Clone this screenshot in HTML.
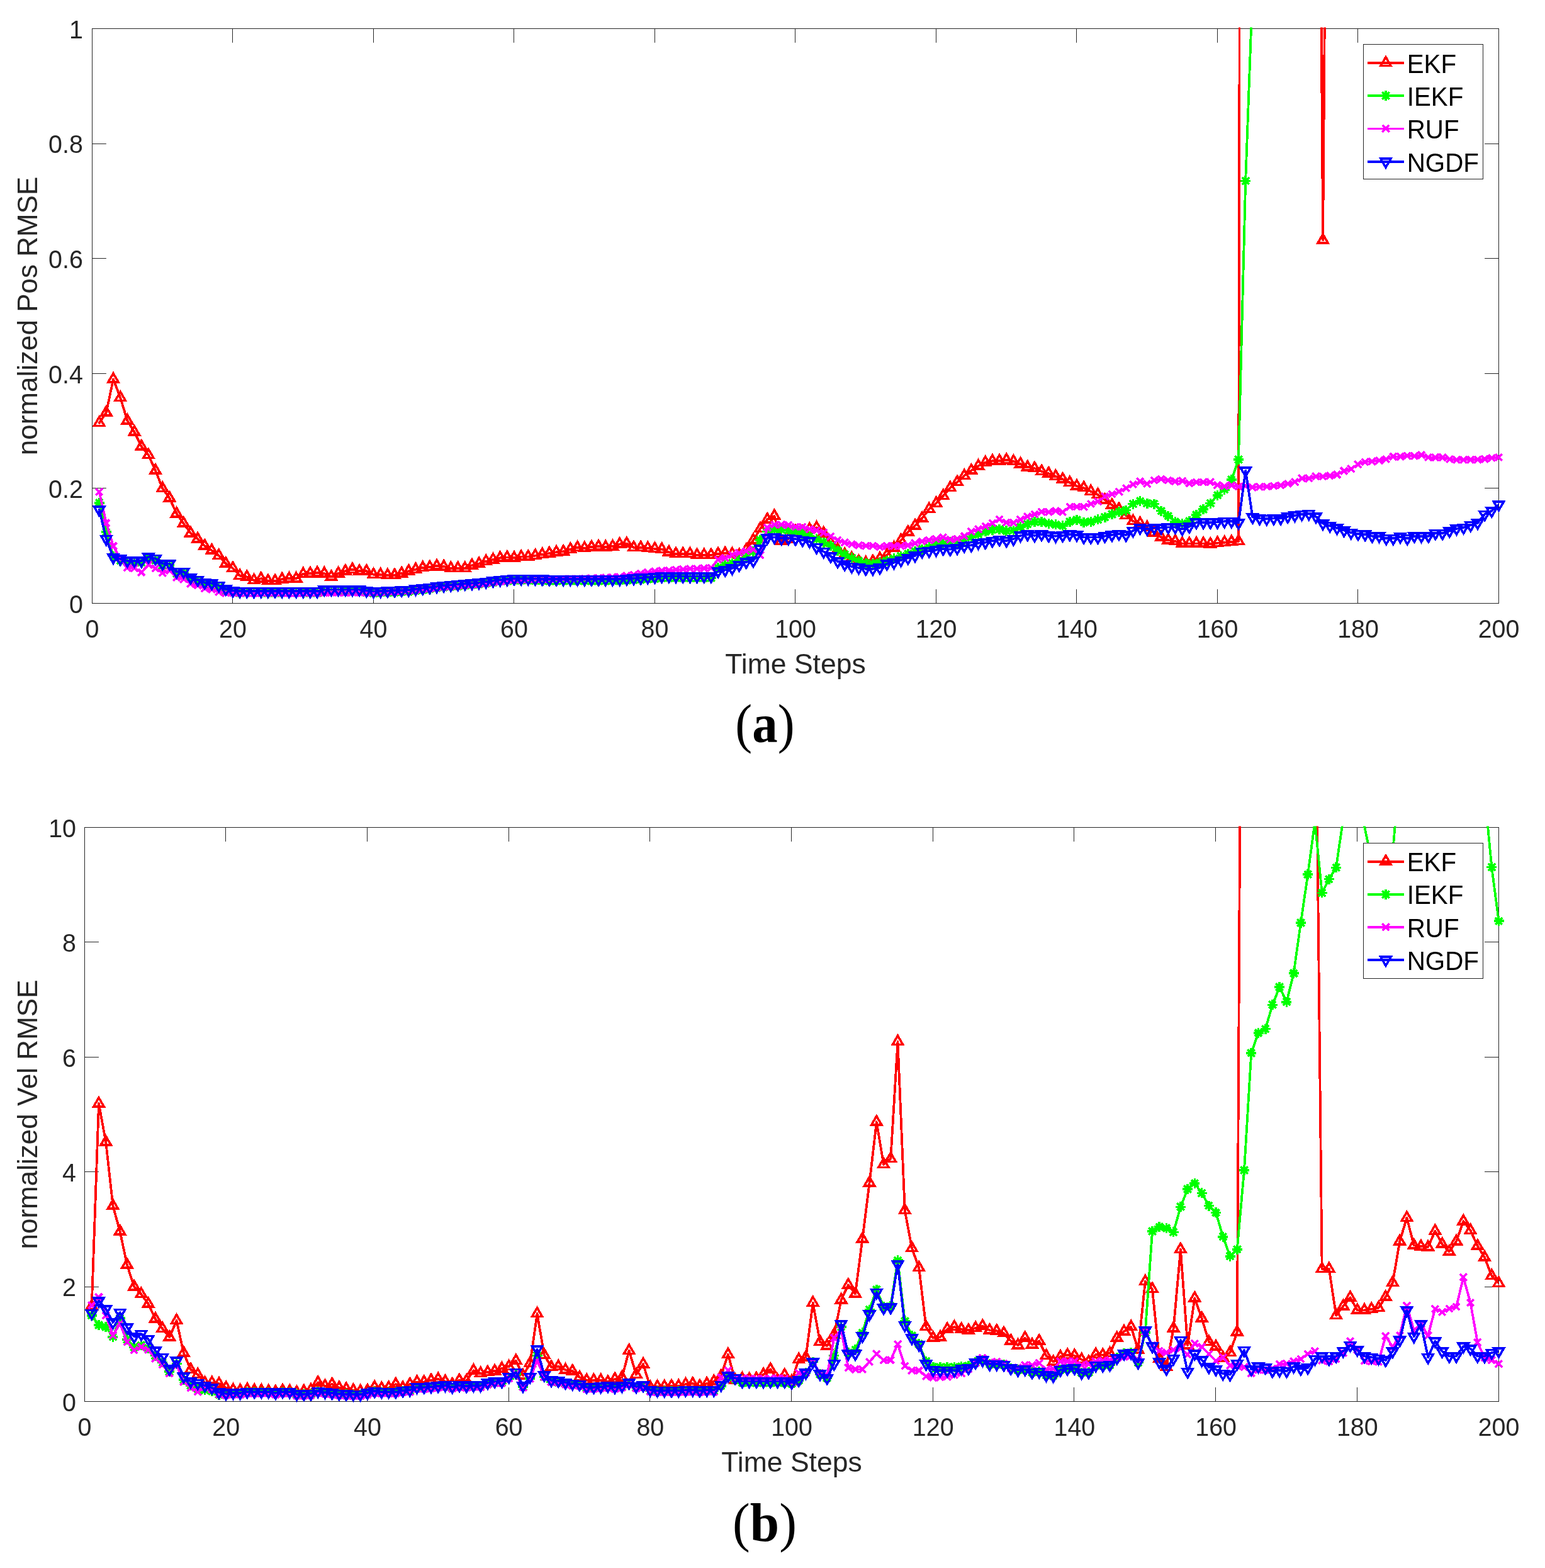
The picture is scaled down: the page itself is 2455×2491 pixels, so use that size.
<!DOCTYPE html><html><head><meta charset="utf-8"><title>RMSE</title>
<style>html,body{margin:0;padding:0;background:#fff;}svg{display:block;}</style></head><body>
<svg width="2455" height="2491" viewBox="0 0 2455 2491">
<rect width="2455" height="2491" fill="#fff"/>
<rect x="146.5" y="45.5" width="2235.0" height="913.0" fill="#fff" stroke="#262626" stroke-width="1"/>
<path d="M146.5 958.5v-22.35M146.5 45.5v22.35M369.5 958.5v-22.35M369.5 45.5v22.35M593.5 958.5v-22.35M593.5 45.5v22.35M816.5 958.5v-22.35M816.5 45.5v22.35M1040.5 958.5v-22.35M1040.5 45.5v22.35M1263.5 958.5v-22.35M1263.5 45.5v22.35M1487.5 958.5v-22.35M1487.5 45.5v22.35M1710.5 958.5v-22.35M1710.5 45.5v22.35M1934.5 958.5v-22.35M1934.5 45.5v22.35M2157.5 958.5v-22.35M2157.5 45.5v22.35M2381.5 958.5v-22.35M2381.5 45.5v22.35M146.5 958.5h22.35M2381.5 958.5h-22.35M146.5 775.5h22.35M2381.5 775.5h-22.35M146.5 593.5h22.35M2381.5 593.5h-22.35M146.5 410.5h22.35M2381.5 410.5h-22.35M146.5 228.5h22.35M2381.5 228.5h-22.35M146.5 45.5h22.35M2381.5 45.5h-22.35" stroke="#262626" stroke-width="1" fill="none"/>
<text transform="translate(146.5 1012.8) scale(0.975 1)" text-anchor="middle" font-size="40.4" fill="#262626" font-family="'Liberation Sans', Arial, Helvetica, sans-serif">0</text>
<text transform="translate(370 1012.8) scale(0.975 1)" text-anchor="middle" font-size="40.4" fill="#262626" font-family="'Liberation Sans', Arial, Helvetica, sans-serif">20</text>
<text transform="translate(593.5 1012.8) scale(0.975 1)" text-anchor="middle" font-size="40.4" fill="#262626" font-family="'Liberation Sans', Arial, Helvetica, sans-serif">40</text>
<text transform="translate(817 1012.8) scale(0.975 1)" text-anchor="middle" font-size="40.4" fill="#262626" font-family="'Liberation Sans', Arial, Helvetica, sans-serif">60</text>
<text transform="translate(1040.5 1012.8) scale(0.975 1)" text-anchor="middle" font-size="40.4" fill="#262626" font-family="'Liberation Sans', Arial, Helvetica, sans-serif">80</text>
<text transform="translate(1264 1012.8) scale(0.975 1)" text-anchor="middle" font-size="40.4" fill="#262626" font-family="'Liberation Sans', Arial, Helvetica, sans-serif">100</text>
<text transform="translate(1487.5 1012.8) scale(0.975 1)" text-anchor="middle" font-size="40.4" fill="#262626" font-family="'Liberation Sans', Arial, Helvetica, sans-serif">120</text>
<text transform="translate(1711 1012.8) scale(0.975 1)" text-anchor="middle" font-size="40.4" fill="#262626" font-family="'Liberation Sans', Arial, Helvetica, sans-serif">140</text>
<text transform="translate(1934.5 1012.8) scale(0.975 1)" text-anchor="middle" font-size="40.4" fill="#262626" font-family="'Liberation Sans', Arial, Helvetica, sans-serif">160</text>
<text transform="translate(2158 1012.8) scale(0.975 1)" text-anchor="middle" font-size="40.4" fill="#262626" font-family="'Liberation Sans', Arial, Helvetica, sans-serif">180</text>
<text transform="translate(2381.5 1012.8) scale(0.975 1)" text-anchor="middle" font-size="40.4" fill="#262626" font-family="'Liberation Sans', Arial, Helvetica, sans-serif">200</text>
<text transform="translate(131.8 973.8) scale(0.975 1)" text-anchor="end" font-size="40.4" fill="#262626" font-family="'Liberation Sans', Arial, Helvetica, sans-serif">0</text>
<text transform="translate(131.8 791.2) scale(0.975 1)" text-anchor="end" font-size="40.4" fill="#262626" font-family="'Liberation Sans', Arial, Helvetica, sans-serif">0.2</text>
<text transform="translate(131.8 608.6) scale(0.975 1)" text-anchor="end" font-size="40.4" fill="#262626" font-family="'Liberation Sans', Arial, Helvetica, sans-serif">0.4</text>
<text transform="translate(131.8 426) scale(0.975 1)" text-anchor="end" font-size="40.4" fill="#262626" font-family="'Liberation Sans', Arial, Helvetica, sans-serif">0.6</text>
<text transform="translate(131.8 243.4) scale(0.975 1)" text-anchor="end" font-size="40.4" fill="#262626" font-family="'Liberation Sans', Arial, Helvetica, sans-serif">0.8</text>
<text transform="translate(131.8 60.8) scale(0.975 1)" text-anchor="end" font-size="40.4" fill="#262626" font-family="'Liberation Sans', Arial, Helvetica, sans-serif">1</text>
<text x="1264" y="1069.5" text-anchor="middle" font-size="44.5" fill="#262626" font-family="'Liberation Sans', Arial, Helvetica, sans-serif">Time Steps</text>
<text transform="translate(59.3 502) rotate(-90)" x="0" y="0" text-anchor="middle" font-size="44.0" fill="#262626" font-family="'Liberation Sans', Arial, Helvetica, sans-serif">normalized Pos RMSE</text>
<clipPath id="ca"><rect x="146.5" y="43.5" width="2235.0" height="915.0"/></clipPath>
<g shape-rendering="crispEdges">
<polyline clip-path="url(#ca)" points="157.68,671.82 168.85,655.38 180.03,602.43 191.2,631.65 202.38,668.17 213.55,686.43 224.73,709.25 235.9,722.95 247.07,747.6 258.25,775.9 269.43,791.42 280.6,816.07 291.77,831.59 302.95,847.11 314.12,856.24 325.3,867.2 336.48,874.5 347.65,882.72 358.83,895.5 370,902.81 381.18,914.68 392.35,916.5 403.53,921.98 414.7,919.24 425.88,922.89 437.05,922.89 448.23,920.15 459.4,919.24 470.58,919.24 481.75,911.94 492.93,911.02 504.1,910.11 515.28,911.02 526.45,916.5 537.62,911.02 548.8,907.37 559.98,904.63 571.15,907.37 582.33,907.37 593.5,912.85 604.67,912.85 615.85,913.76 627.03,913.76 638.2,911.02 649.38,907.37 660.55,904.63 671.73,901.89 682.9,900.98 694.08,899.15 705.25,900.07 716.43,902.81 727.6,902.81 738.78,902.81 749.95,898.24 761.12,895.5 772.3,891.85 783.48,889.11 794.65,886.37 805.83,885.46 817,886.37 828.18,884.55 839.35,884.55 850.53,882.72 861.7,880.89 872.88,879.07 884.05,877.24 895.23,876.33 906.4,872.68 917.58,869.94 928.75,870.85 939.93,869.03 951.1,868.11 962.28,869.03 973.45,868.11 984.62,864.46 995.8,863.55 1006.98,869.94 1018.15,869.94 1029.33,870.85 1040.5,871.76 1051.68,872.68 1062.85,877.24 1074.03,879.98 1085.2,879.98 1096.38,879.98 1107.55,881.81 1118.72,881.81 1129.9,881.81 1141.08,879.98 1152.25,879.07 1163.43,879.98 1174.6,881.81 1185.78,873.59 1196.95,858.07 1208.12,839.81 1219.3,825.2 1230.48,819.72 1241.65,859.9 1252.83,856.24 1264,844.38 1275.18,845.29 1286.35,840.72 1297.53,838.35 1308.7,847.11 1319.88,861.72 1331.05,873.13 1342.23,880.89 1353.4,886.83 1364.58,891.85 1375.75,893.95 1386.93,891.85 1398.1,887.29 1409.28,882.08 1420.45,870.3 1431.62,858.53 1442.8,845.29 1453.98,835.25 1465.15,823.38 1476.33,808.77 1487.5,799.64 1498.68,787.77 1509.85,774.99 1521.03,765.86 1532.2,755.81 1543.38,747.6 1554.55,740.29 1565.73,734.82 1576.9,732.35 1588.08,732.08 1599.25,730.71 1610.43,732.99 1621.6,737.1 1632.78,742.12 1643.95,743.95 1655.12,748.88 1666.3,752.16 1677.48,756.73 1688.65,761.29 1699.83,766.77 1711,772.25 1722.18,774.99 1733.35,780.83 1744.53,785.94 1755.7,794.16 1766.88,802.38 1778.05,808.77 1789.23,818.81 1800.4,827.94 1811.58,831.59 1822.75,837.98 1833.93,846.2 1845.1,853.5 1856.28,858.07 1867.45,859.9 1878.62,863.55 1889.8,863.55 1900.98,863.55 1912.15,863.55 1923.33,864.46 1934.5,862.63 1945.68,861.72 1956.85,860.81 1968.03,859.9 1979.2,-4976 1990.38,-6345.5 2001.55,-6345.5 2012.73,-6345.5 2023.9,-6345.5 2035.08,-6345.5 2046.25,-6345.5 2057.43,-6345.5 2068.6,-6345.5 2079.78,-6345.5 2090.95,-1141.4 2102.12,381.48 2113.3,-1050.1 2124.48,-6345.5 2135.65,-6345.5 2146.82,-6345.5 2158,-6345.5 2169.18,-6345.5 2180.35,-6345.5 2191.53,-6345.5 2202.7,-6345.5 2213.88,-6345.5 2225.05,-6345.5 2236.22,-6345.5 2247.4,-6345.5 2258.58,-6345.5 2269.75,-6345.5 2280.93,-6345.5 2292.1,-6345.5 2303.28,-6345.5 2314.45,-6345.5 2325.62,-6345.5 2336.8,-6345.5 2347.98,-6345.5 2359.15,-6345.5 2370.33,-6345.5 2381.5,-6345.5" fill="none" stroke="#ff0000" stroke-width="3.8" stroke-linejoin="round" stroke-linecap="round"/>
<path d="M157.68 662.46L165.78 676.49H149.58ZM168.85 646.03L176.95 660.06H160.75ZM180.03 593.08L188.12 607.11H171.93ZM191.2 622.29L199.3 636.32H183.1ZM202.38 658.81L210.47 672.84H194.28ZM213.55 677.07L221.65 691.1H205.45ZM224.73 699.9L232.83 713.93H216.63ZM235.9 713.59L244 727.62H227.8ZM247.07 738.24L255.17 752.27H238.97ZM258.25 766.55L266.35 780.58H250.15ZM269.43 782.07L277.53 796.1H261.32ZM280.6 806.72L288.7 820.75H272.5ZM291.77 822.24L299.88 836.27H283.67ZM302.95 837.76L311.05 851.79H294.85ZM314.12 846.89L322.23 860.92H306.02ZM325.3 857.85L333.4 871.88H317.2ZM336.48 865.15L344.58 879.18H328.38ZM347.65 873.37L355.75 887.4H339.55ZM358.83 886.15L366.93 900.18H350.73ZM370 893.45L378.1 907.48H361.9ZM381.18 905.32L389.28 919.35H373.07ZM392.35 907.15L400.45 921.18H384.25ZM403.53 912.63L411.63 926.66H395.43ZM414.7 909.89L422.8 923.92H406.6ZM425.88 913.54L433.98 927.57H417.77ZM437.05 913.54L445.15 927.57H428.95ZM448.23 910.8L456.33 924.83H440.12ZM459.4 909.89L467.5 923.92H451.3ZM470.58 909.89L478.68 923.92H462.48ZM481.75 902.58L489.85 916.61H473.65ZM492.93 901.67L501.03 915.7H484.82ZM504.1 900.76L512.2 914.79H496ZM515.28 901.67L523.38 915.7H507.18ZM526.45 907.15L534.55 921.18H518.35ZM537.62 901.67L545.73 915.7H529.52ZM548.8 898.02L556.9 912.05H540.7ZM559.98 895.28L568.08 909.31H551.88ZM571.15 898.02L579.25 912.05H563.05ZM582.33 898.02L590.43 912.05H574.23ZM593.5 903.5L601.6 917.53H585.4ZM604.67 903.5L612.77 917.53H596.57ZM615.85 904.41L623.95 918.44H607.75ZM627.03 904.41L635.13 918.44H618.93ZM638.2 901.67L646.3 915.7H630.1ZM649.38 898.02L657.48 912.05H641.27ZM660.55 895.28L668.65 909.31H652.45ZM671.73 892.54L679.83 906.57H663.62ZM682.9 891.63L691 905.66H674.8ZM694.08 889.8L702.18 903.83H685.98ZM705.25 890.71L713.35 904.74H697.15ZM716.43 893.45L724.53 907.48H708.33ZM727.6 893.45L735.7 907.48H719.5ZM738.78 893.45L746.88 907.48H730.68ZM749.95 888.89L758.05 902.92H741.85ZM761.12 886.15L769.23 900.18H753.02ZM772.3 882.5L780.4 896.53H764.2ZM783.48 879.76L791.58 893.79H775.38ZM794.65 877.02L802.75 891.05H786.55ZM805.83 876.11L813.93 890.14H797.73ZM817 877.02L825.1 891.05H808.9ZM828.18 875.19L836.28 889.22H820.08ZM839.35 875.19L847.45 889.22H831.25ZM850.53 873.37L858.63 887.4H842.43ZM861.7 871.54L869.8 885.57H853.6ZM872.88 869.72L880.98 883.75H864.77ZM884.05 867.89L892.15 881.92H875.95ZM895.23 866.98L903.33 881.01H887.12ZM906.4 863.32L914.5 877.35H898.3ZM917.58 860.59L925.68 874.62H909.48ZM928.75 861.5L936.85 875.53H920.65ZM939.93 859.67L948.03 873.7H931.83ZM951.1 858.76L959.2 872.79H943ZM962.28 859.67L970.38 873.7H954.18ZM973.45 858.76L981.55 872.79H965.35ZM984.62 855.11L992.73 869.14H976.52ZM995.8 854.19L1003.9 868.22H987.7ZM1006.98 860.59L1015.08 874.62H998.88ZM1018.15 860.59L1026.25 874.62H1010.05ZM1029.33 861.5L1037.42 875.53H1021.23ZM1040.5 862.41L1048.6 876.44H1032.4ZM1051.68 863.32L1059.78 877.35H1043.58ZM1062.85 867.89L1070.95 881.92H1054.75ZM1074.03 870.63L1082.12 884.66H1065.93ZM1085.2 870.63L1093.3 884.66H1077.1ZM1096.38 870.63L1104.47 884.66H1088.28ZM1107.55 872.45L1115.65 886.48H1099.45ZM1118.72 872.45L1126.82 886.48H1110.62ZM1129.9 872.45L1138 886.48H1121.8ZM1141.08 870.63L1149.17 884.66H1132.98ZM1152.25 869.72L1160.35 883.75H1144.15ZM1163.43 870.63L1171.53 884.66H1155.33ZM1174.6 872.45L1182.7 886.48H1166.5ZM1185.78 864.24L1193.88 878.27H1177.68ZM1196.95 848.72L1205.05 862.75H1188.85ZM1208.12 830.46L1216.22 844.49H1200.03ZM1219.3 815.85L1227.4 829.88H1211.2ZM1230.48 810.37L1238.58 824.4H1222.38ZM1241.65 850.54L1249.75 864.57H1233.55ZM1252.83 846.89L1260.92 860.92H1244.73ZM1264 835.02L1272.1 849.05H1255.9ZM1275.18 835.93L1283.28 849.96H1267.08ZM1286.35 831.37L1294.45 845.4H1278.25ZM1297.53 829L1305.62 843.03H1289.43ZM1308.7 837.76L1316.8 851.79H1300.6ZM1319.88 852.37L1327.97 866.4H1311.78ZM1331.05 863.78L1339.15 877.81H1322.95ZM1342.23 871.54L1350.33 885.57H1334.13ZM1353.4 877.48L1361.5 891.51H1345.3ZM1364.58 882.5L1372.67 896.53H1356.48ZM1375.75 884.6L1383.85 898.63H1367.65ZM1386.93 882.5L1395.03 896.53H1378.83ZM1398.1 877.93L1406.2 891.96H1390ZM1409.28 872.73L1417.38 886.76H1401.18ZM1420.45 860.95L1428.55 874.98H1412.35ZM1431.62 849.17L1439.72 863.2H1423.53ZM1442.8 835.93L1450.9 849.96H1434.7ZM1453.98 825.89L1462.08 839.92H1445.88ZM1465.15 814.02L1473.25 828.05H1457.05ZM1476.33 799.41L1484.42 813.44H1468.23ZM1487.5 790.28L1495.6 804.31H1479.4ZM1498.68 778.42L1506.78 792.45H1490.58ZM1509.85 765.63L1517.95 779.66H1501.75ZM1521.03 756.5L1529.12 770.53H1512.93ZM1532.2 746.46L1540.3 760.49H1524.1ZM1543.38 738.24L1551.47 752.27H1535.28ZM1554.55 730.94L1562.65 744.97H1546.45ZM1565.73 725.46L1573.83 739.49H1557.63ZM1576.9 723L1585 737.03H1568.8ZM1588.08 722.72L1596.17 736.75H1579.98ZM1599.25 721.35L1607.35 735.38H1591.15ZM1610.43 723.64L1618.53 737.67H1602.33ZM1621.6 727.74L1629.7 741.77H1613.5ZM1632.78 732.77L1640.88 746.8H1624.68ZM1643.95 734.59L1652.05 748.62H1635.85ZM1655.12 739.52L1663.22 753.55H1647.03ZM1666.3 742.81L1674.4 756.84H1658.2ZM1677.48 747.37L1685.58 761.4H1669.38ZM1688.65 751.94L1696.75 765.97H1680.55ZM1699.83 757.42L1707.92 771.45H1691.73ZM1711 762.89L1719.1 776.92H1702.9ZM1722.18 765.63L1730.28 779.66H1714.08ZM1733.35 771.48L1741.45 785.51H1725.25ZM1744.53 776.59L1752.62 790.62H1736.43ZM1755.7 784.81L1763.8 798.84H1747.6ZM1766.88 793.02L1774.97 807.05H1758.78ZM1778.05 799.41L1786.15 813.44H1769.95ZM1789.23 809.46L1797.33 823.49H1781.13ZM1800.4 818.59L1808.5 832.62H1792.3ZM1811.58 822.24L1819.67 836.27H1803.48ZM1822.75 828.63L1830.85 842.66H1814.65ZM1833.93 836.85L1842.03 850.88H1825.83ZM1845.1 844.15L1853.2 858.18H1837ZM1856.28 848.72L1864.38 862.75H1848.18ZM1867.45 850.54L1875.55 864.57H1859.35ZM1878.62 854.19L1886.72 868.22H1870.53ZM1889.8 854.19L1897.9 868.22H1881.7ZM1900.98 854.19L1909.08 868.22H1892.88ZM1912.15 854.19L1920.25 868.22H1904.05ZM1923.33 855.11L1931.42 869.14H1915.23ZM1934.5 853.28L1942.6 867.31H1926.4ZM1945.68 852.37L1953.78 866.4H1937.58ZM1956.85 851.46L1964.95 865.49H1948.75ZM1968.03 850.54L1976.12 864.57H1959.93ZM2102.12 372.13L2110.22 386.16H2094.03Z" fill="none" stroke="#ff0000" stroke-width="3.6" stroke-linejoin="miter"/>
<polyline clip-path="url(#ca)" points="157.68,798.73 168.85,845.29 180.03,883.63 191.2,890.57 202.38,893.68 213.55,893.68 224.73,893.68 235.9,887.29 247.07,890.02 258.25,898.24 269.43,898.24 280.6,911.02 291.77,911.02 302.95,920.15 314.12,923.81 325.3,928.37 336.48,929.28 347.65,932.94 358.83,938.41 370,941.15 381.18,942.07 392.35,942.07 403.53,942.07 414.7,942.07 425.88,942.07 437.05,942.07 448.23,942.07 459.4,942.07 470.58,942.07 481.75,942.07 492.93,942.07 504.1,942.07 515.28,939.33 526.45,939.33 537.62,939.33 548.8,939.33 559.98,939.33 571.15,939.33 582.33,941.15 593.5,942.34 604.67,941.87 615.85,941.39 627.03,940.92 638.2,940.44 649.38,939.97 660.55,938.56 671.73,937.15 682.9,935.75 694.08,934.34 705.25,932.94 716.43,932.02 727.6,931.11 738.78,930.2 749.95,929.28 761.12,928.37 772.3,926.85 783.48,925.33 794.65,923.81 805.83,922.89 817,921.98 828.18,921.98 839.35,921.98 850.53,922.28 861.7,922.59 872.88,922.89 884.05,922.89 895.23,922.89 906.4,922.89 917.58,922.89 928.75,922.89 939.93,922.89 951.1,922.89 962.28,922.89 973.45,922.89 984.62,922.89 995.8,922.16 1006.98,921.43 1018.15,920.7 1029.33,919.97 1040.5,919.24 1051.68,918.33 1062.85,918.33 1074.03,918.33 1085.2,918.33 1096.38,918.33 1107.55,918.33 1118.72,918.33 1129.9,918.33 1141.08,901.89 1152.25,898.24 1163.43,894.59 1174.6,890.02 1185.78,885.46 1196.95,876.33 1208.12,858.07 1219.3,844.38 1230.48,841.64 1241.65,841.64 1252.83,842.55 1264,844.38 1275.18,848.03 1286.35,851.68 1297.53,856.24 1308.7,861.72 1319.88,867.2 1331.05,874.5 1342.23,880.89 1353.4,886.37 1364.58,890.94 1375.75,894.59 1386.93,895.5 1398.1,893.68 1409.28,890.94 1420.45,887.29 1431.62,883.63 1442.8,879.98 1453.98,876.33 1465.15,872.68 1476.33,869.03 1487.5,863.09 1498.68,863.09 1509.85,860.81 1521.03,860.81 1532.2,857.16 1543.38,853.5 1554.55,848.94 1565.73,844.38 1576.9,841.64 1588.08,840.72 1599.25,843.46 1610.43,842.55 1621.6,837.07 1632.78,832.51 1643.95,828.85 1655.12,828.85 1666.3,831.59 1677.48,833.42 1688.65,835.25 1699.83,828.85 1711,826.12 1722.18,829.77 1733.35,828.85 1744.53,825.2 1755.7,821.55 1766.88,816.99 1778.05,813.33 1789.23,810.59 1800.4,800.55 1811.58,795.99 1822.75,799.64 1833.93,800.55 1845.1,811.51 1856.28,819.72 1867.45,828.85 1878.62,831.59 1889.8,827.94 1900.98,817.9 1912.15,808.77 1923.33,799.64 1934.5,786.86 1945.68,777.73 1956.85,762.21 1968.03,730.25 1979.2,287.45 1990.38,-18.41 2001.55,-1780.5 2012.73,-1780.5 2023.9,-1780.5 2035.08,-1780.5 2046.25,-1780.5 2057.43,-1780.5 2068.6,-1780.5 2079.78,-1780.5 2090.95,-1780.5 2102.12,-1780.5 2113.3,-1780.5 2124.48,-1780.5 2135.65,-1780.5 2146.82,-1780.5 2158,-1780.5 2169.18,-1780.5 2180.35,-1780.5 2191.53,-1780.5 2202.7,-1780.5 2213.88,-1780.5 2225.05,-1780.5 2236.22,-1780.5 2247.4,-1780.5 2258.58,-1780.5 2269.75,-1780.5 2280.93,-1780.5 2292.1,-1780.5 2303.28,-1780.5 2314.45,-1780.5 2325.62,-1780.5 2336.8,-1780.5 2347.98,-1780.5 2359.15,-1780.5 2370.33,-1780.5 2381.5,-1780.5" fill="none" stroke="#00ff00" stroke-width="3.8" stroke-linejoin="round" stroke-linecap="round"/>
<path d="M149.68 798.73h16M157.68 790.73v16M152.02 793.07l11.32 11.32M152.02 804.38l11.32 -11.32M160.85 845.29h16M168.85 837.29v16M163.19 839.63l11.32 11.32M163.19 850.95l11.32 -11.32M172.03 883.63h16M180.03 875.63v16M174.37 877.97l11.32 11.32M174.37 889.29l11.32 -11.32M183.2 890.57h16M191.2 882.57v16M185.54 884.91l11.32 11.32M185.54 896.23l11.32 -11.32M194.38 893.68h16M202.38 885.68v16M196.72 888.02l11.32 11.32M196.72 899.34l11.32 -11.32M205.55 893.68h16M213.55 885.68v16M207.89 888.02l11.32 11.32M207.89 899.34l11.32 -11.32M216.73 893.68h16M224.73 885.68v16M219.07 888.02l11.32 11.32M219.07 899.34l11.32 -11.32M227.9 887.29h16M235.9 879.29v16M230.24 881.63l11.32 11.32M230.24 892.95l11.32 -11.32M239.07 890.02h16M247.07 882.02v16M241.41 884.37l11.32 11.32M241.41 895.68l11.32 -11.32M250.25 898.24h16M258.25 890.24v16M252.59 892.58l11.32 11.32M252.59 903.9l11.32 -11.32M261.43 898.24h16M269.43 890.24v16M263.76 892.58l11.32 11.32M263.76 903.9l11.32 -11.32M272.6 911.02h16M280.6 903.02v16M274.94 905.36l11.32 11.32M274.94 916.68l11.32 -11.32M283.77 911.02h16M291.77 903.02v16M286.11 905.36l11.32 11.32M286.11 916.68l11.32 -11.32M294.95 920.15h16M302.95 912.15v16M297.29 914.49l11.32 11.32M297.29 925.81l11.32 -11.32M306.12 923.81h16M314.12 915.81v16M308.46 918.15l11.32 11.32M308.46 929.47l11.32 -11.32M317.3 928.37h16M325.3 920.37v16M319.64 922.71l11.32 11.32M319.64 934.03l11.32 -11.32M328.48 929.28h16M336.48 921.28v16M330.81 923.62l11.32 11.32M330.81 934.94l11.32 -11.32M339.65 932.94h16M347.65 924.94v16M341.99 927.28l11.32 11.32M341.99 938.6l11.32 -11.32M350.83 938.41h16M358.83 930.41v16M353.17 932.75l11.32 11.32M353.17 944.07l11.32 -11.32M362 941.15h16M370 933.15v16M364.34 935.49l11.32 11.32M364.34 946.81l11.32 -11.32M373.18 942.07h16M381.18 934.07v16M375.51 936.41l11.32 11.32M375.51 947.73l11.32 -11.32M384.35 942.07h16M392.35 934.07v16M386.69 936.41l11.32 11.32M386.69 947.73l11.32 -11.32M395.53 942.07h16M403.53 934.07v16M397.87 936.41l11.32 11.32M397.87 947.73l11.32 -11.32M406.7 942.07h16M414.7 934.07v16M409.04 936.41l11.32 11.32M409.04 947.73l11.32 -11.32M417.88 942.07h16M425.88 934.07v16M420.21 936.41l11.32 11.32M420.21 947.73l11.32 -11.32M429.05 942.07h16M437.05 934.07v16M431.39 936.41l11.32 11.32M431.39 947.73l11.32 -11.32M440.23 942.07h16M448.23 934.07v16M442.56 936.41l11.32 11.32M442.56 947.73l11.32 -11.32M451.4 942.07h16M459.4 934.07v16M453.74 936.41l11.32 11.32M453.74 947.73l11.32 -11.32M462.58 942.07h16M470.58 934.07v16M464.92 936.41l11.32 11.32M464.92 947.73l11.32 -11.32M473.75 942.07h16M481.75 934.07v16M476.09 936.41l11.32 11.32M476.09 947.73l11.32 -11.32M484.93 942.07h16M492.93 934.07v16M487.26 936.41l11.32 11.32M487.26 947.73l11.32 -11.32M496.1 942.07h16M504.1 934.07v16M498.44 936.41l11.32 11.32M498.44 947.73l11.32 -11.32M507.28 939.33h16M515.28 931.33v16M509.62 933.67l11.32 11.32M509.62 944.99l11.32 -11.32M518.45 939.33h16M526.45 931.33v16M520.79 933.67l11.32 11.32M520.79 944.99l11.32 -11.32M529.62 939.33h16M537.62 931.33v16M531.97 933.67l11.32 11.32M531.97 944.99l11.32 -11.32M540.8 939.33h16M548.8 931.33v16M543.14 933.67l11.32 11.32M543.14 944.99l11.32 -11.32M551.98 939.33h16M559.98 931.33v16M554.32 933.67l11.32 11.32M554.32 944.99l11.32 -11.32M563.15 939.33h16M571.15 931.33v16M565.49 933.67l11.32 11.32M565.49 944.99l11.32 -11.32M574.33 941.15h16M582.33 933.15v16M576.67 935.49l11.32 11.32M576.67 946.81l11.32 -11.32M585.5 942.34h16M593.5 934.34v16M587.84 936.68l11.32 11.32M587.84 948l11.32 -11.32M596.67 941.87h16M604.67 933.87v16M599.01 936.21l11.32 11.32M599.01 947.53l11.32 -11.32M607.85 941.39h16M615.85 933.39v16M610.19 935.73l11.32 11.32M610.19 947.05l11.32 -11.32M619.03 940.92h16M627.03 932.92v16M621.37 935.26l11.32 11.32M621.37 946.58l11.32 -11.32M630.2 940.44h16M638.2 932.44v16M632.54 934.78l11.32 11.32M632.54 946.1l11.32 -11.32M641.38 939.97h16M649.38 931.97v16M643.72 934.31l11.32 11.32M643.72 945.63l11.32 -11.32M652.55 938.56h16M660.55 930.56v16M654.89 932.9l11.32 11.32M654.89 944.22l11.32 -11.32M663.73 937.15h16M671.73 929.15v16M666.07 931.49l11.32 11.32M666.07 942.81l11.32 -11.32M674.9 935.75h16M682.9 927.75v16M677.24 930.09l11.32 11.32M677.24 941.41l11.32 -11.32M686.08 934.34h16M694.08 926.34v16M688.42 928.68l11.32 11.32M688.42 940l11.32 -11.32M697.25 932.94h16M705.25 924.94v16M699.59 927.28l11.32 11.32M699.59 938.6l11.32 -11.32M708.43 932.02h16M716.43 924.02v16M710.77 926.36l11.32 11.32M710.77 937.68l11.32 -11.32M719.6 931.11h16M727.6 923.11v16M721.94 925.45l11.32 11.32M721.94 936.77l11.32 -11.32M730.78 930.2h16M738.78 922.2v16M733.12 924.54l11.32 11.32M733.12 935.86l11.32 -11.32M741.95 929.28h16M749.95 921.28v16M744.29 923.62l11.32 11.32M744.29 934.94l11.32 -11.32M753.12 928.37h16M761.12 920.37v16M755.47 922.71l11.32 11.32M755.47 934.03l11.32 -11.32M764.3 926.85h16M772.3 918.85v16M766.64 921.19l11.32 11.32M766.64 932.51l11.32 -11.32M775.48 925.33h16M783.48 917.33v16M777.82 919.67l11.32 11.32M777.82 930.99l11.32 -11.32M786.65 923.81h16M794.65 915.81v16M788.99 918.15l11.32 11.32M788.99 929.47l11.32 -11.32M797.83 922.89h16M805.83 914.89v16M800.17 917.23l11.32 11.32M800.17 928.55l11.32 -11.32M809 921.98h16M817 913.98v16M811.34 916.32l11.32 11.32M811.34 927.64l11.32 -11.32M820.18 921.98h16M828.18 913.98v16M822.52 916.32l11.32 11.32M822.52 927.64l11.32 -11.32M831.35 921.98h16M839.35 913.98v16M833.69 916.32l11.32 11.32M833.69 927.64l11.32 -11.32M842.53 922.28h16M850.53 914.28v16M844.87 916.62l11.32 11.32M844.87 927.94l11.32 -11.32M853.7 922.59h16M861.7 914.59v16M856.04 916.93l11.32 11.32M856.04 928.25l11.32 -11.32M864.88 922.89h16M872.88 914.89v16M867.22 917.23l11.32 11.32M867.22 928.55l11.32 -11.32M876.05 922.89h16M884.05 914.89v16M878.39 917.23l11.32 11.32M878.39 928.55l11.32 -11.32M887.23 922.89h16M895.23 914.89v16M889.57 917.23l11.32 11.32M889.57 928.55l11.32 -11.32M898.4 922.89h16M906.4 914.89v16M900.74 917.23l11.32 11.32M900.74 928.55l11.32 -11.32M909.58 922.89h16M917.58 914.89v16M911.92 917.23l11.32 11.32M911.92 928.55l11.32 -11.32M920.75 922.89h16M928.75 914.89v16M923.09 917.23l11.32 11.32M923.09 928.55l11.32 -11.32M931.93 922.89h16M939.93 914.89v16M934.27 917.23l11.32 11.32M934.27 928.55l11.32 -11.32M943.1 922.89h16M951.1 914.89v16M945.44 917.23l11.32 11.32M945.44 928.55l11.32 -11.32M954.28 922.89h16M962.28 914.89v16M956.62 917.23l11.32 11.32M956.62 928.55l11.32 -11.32M965.45 922.89h16M973.45 914.89v16M967.79 917.23l11.32 11.32M967.79 928.55l11.32 -11.32M976.62 922.89h16M984.62 914.89v16M978.97 917.23l11.32 11.32M978.97 928.55l11.32 -11.32M987.8 922.16h16M995.8 914.16v16M990.14 916.5l11.32 11.32M990.14 927.82l11.32 -11.32M998.98 921.43h16M1006.98 913.43v16M1001.32 915.77l11.32 11.32M1001.32 927.09l11.32 -11.32M1010.15 920.7h16M1018.15 912.7v16M1012.49 915.04l11.32 11.32M1012.49 926.36l11.32 -11.32M1021.33 919.97h16M1029.33 911.97v16M1023.67 914.31l11.32 11.32M1023.67 925.63l11.32 -11.32M1032.5 919.24h16M1040.5 911.24v16M1034.84 913.58l11.32 11.32M1034.84 924.9l11.32 -11.32M1043.68 918.33h16M1051.68 910.33v16M1046.02 912.67l11.32 11.32M1046.02 923.99l11.32 -11.32M1054.85 918.33h16M1062.85 910.33v16M1057.19 912.67l11.32 11.32M1057.19 923.99l11.32 -11.32M1066.03 918.33h16M1074.03 910.33v16M1068.37 912.67l11.32 11.32M1068.37 923.99l11.32 -11.32M1077.2 918.33h16M1085.2 910.33v16M1079.54 912.67l11.32 11.32M1079.54 923.99l11.32 -11.32M1088.38 918.33h16M1096.38 910.33v16M1090.71 912.67l11.32 11.32M1090.71 923.99l11.32 -11.32M1099.55 918.33h16M1107.55 910.33v16M1101.89 912.67l11.32 11.32M1101.89 923.99l11.32 -11.32M1110.72 918.33h16M1118.72 910.33v16M1113.06 912.67l11.32 11.32M1113.06 923.99l11.32 -11.32M1121.9 918.33h16M1129.9 910.33v16M1124.24 912.67l11.32 11.32M1124.24 923.99l11.32 -11.32M1133.08 901.89h16M1141.08 893.89v16M1135.41 896.23l11.32 11.32M1135.41 907.55l11.32 -11.32M1144.25 898.24h16M1152.25 890.24v16M1146.59 892.58l11.32 11.32M1146.59 903.9l11.32 -11.32M1155.43 894.59h16M1163.43 886.59v16M1157.77 888.93l11.32 11.32M1157.77 900.25l11.32 -11.32M1166.6 890.02h16M1174.6 882.02v16M1168.94 884.37l11.32 11.32M1168.94 895.68l11.32 -11.32M1177.78 885.46h16M1185.78 877.46v16M1180.12 879.8l11.32 11.32M1180.12 891.12l11.32 -11.32M1188.95 876.33h16M1196.95 868.33v16M1191.29 870.67l11.32 11.32M1191.29 881.99l11.32 -11.32M1200.12 858.07h16M1208.12 850.07v16M1202.46 852.41l11.32 11.32M1202.46 863.73l11.32 -11.32M1211.3 844.38h16M1219.3 836.38v16M1213.64 838.72l11.32 11.32M1213.64 850.03l11.32 -11.32M1222.48 841.64h16M1230.48 833.64v16M1224.82 835.98l11.32 11.32M1224.82 847.3l11.32 -11.32M1233.65 841.64h16M1241.65 833.64v16M1235.99 835.98l11.32 11.32M1235.99 847.3l11.32 -11.32M1244.83 842.55h16M1252.83 834.55v16M1247.16 836.89l11.32 11.32M1247.16 848.21l11.32 -11.32M1256 844.38h16M1264 836.38v16M1258.34 838.72l11.32 11.32M1258.34 850.03l11.32 -11.32M1267.18 848.03h16M1275.18 840.03v16M1269.52 842.37l11.32 11.32M1269.52 853.69l11.32 -11.32M1278.35 851.68h16M1286.35 843.68v16M1280.69 846.02l11.32 11.32M1280.69 857.34l11.32 -11.32M1289.53 856.24h16M1297.53 848.24v16M1291.87 850.58l11.32 11.32M1291.87 861.9l11.32 -11.32M1300.7 861.72h16M1308.7 853.72v16M1303.04 856.06l11.32 11.32M1303.04 867.38l11.32 -11.32M1311.88 867.2h16M1319.88 859.2v16M1314.21 861.54l11.32 11.32M1314.21 872.86l11.32 -11.32M1323.05 874.5h16M1331.05 866.5v16M1325.39 868.84l11.32 11.32M1325.39 880.16l11.32 -11.32M1334.23 880.89h16M1342.23 872.89v16M1336.57 875.24l11.32 11.32M1336.57 886.55l11.32 -11.32M1345.4 886.37h16M1353.4 878.37v16M1347.74 880.71l11.32 11.32M1347.74 892.03l11.32 -11.32M1356.58 890.94h16M1364.58 882.94v16M1358.91 885.28l11.32 11.32M1358.91 896.6l11.32 -11.32M1367.75 894.59h16M1375.75 886.59v16M1370.09 888.93l11.32 11.32M1370.09 900.25l11.32 -11.32M1378.93 895.5h16M1386.93 887.5v16M1381.27 889.84l11.32 11.32M1381.27 901.16l11.32 -11.32M1390.1 893.68h16M1398.1 885.68v16M1392.44 888.02l11.32 11.32M1392.44 899.34l11.32 -11.32M1401.28 890.94h16M1409.28 882.94v16M1403.62 885.28l11.32 11.32M1403.62 896.6l11.32 -11.32M1412.45 887.29h16M1420.45 879.29v16M1414.79 881.63l11.32 11.32M1414.79 892.95l11.32 -11.32M1423.62 883.63h16M1431.62 875.63v16M1425.96 877.97l11.32 11.32M1425.96 889.29l11.32 -11.32M1434.8 879.98h16M1442.8 871.98v16M1437.14 874.32l11.32 11.32M1437.14 885.64l11.32 -11.32M1445.98 876.33h16M1453.98 868.33v16M1448.32 870.67l11.32 11.32M1448.32 881.99l11.32 -11.32M1457.15 872.68h16M1465.15 864.68v16M1459.49 867.02l11.32 11.32M1459.49 878.34l11.32 -11.32M1468.33 869.03h16M1476.33 861.03v16M1470.66 863.37l11.32 11.32M1470.66 874.69l11.32 -11.32M1479.5 863.09h16M1487.5 855.09v16M1481.84 857.43l11.32 11.32M1481.84 868.75l11.32 -11.32M1490.68 863.09h16M1498.68 855.09v16M1493.02 857.43l11.32 11.32M1493.02 868.75l11.32 -11.32M1501.85 860.81h16M1509.85 852.81v16M1504.19 855.15l11.32 11.32M1504.19 866.47l11.32 -11.32M1513.03 860.81h16M1521.03 852.81v16M1515.37 855.15l11.32 11.32M1515.37 866.47l11.32 -11.32M1524.2 857.16h16M1532.2 849.16v16M1526.54 851.5l11.32 11.32M1526.54 862.82l11.32 -11.32M1535.38 853.5h16M1543.38 845.5v16M1537.71 847.85l11.32 11.32M1537.71 859.16l11.32 -11.32M1546.55 848.94h16M1554.55 840.94v16M1548.89 843.28l11.32 11.32M1548.89 854.6l11.32 -11.32M1557.73 844.38h16M1565.73 836.38v16M1560.07 838.72l11.32 11.32M1560.07 850.03l11.32 -11.32M1568.9 841.64h16M1576.9 833.64v16M1571.24 835.98l11.32 11.32M1571.24 847.3l11.32 -11.32M1580.08 840.72h16M1588.08 832.72v16M1582.41 835.06l11.32 11.32M1582.41 846.38l11.32 -11.32M1591.25 843.46h16M1599.25 835.46v16M1593.59 837.8l11.32 11.32M1593.59 849.12l11.32 -11.32M1602.43 842.55h16M1610.43 834.55v16M1604.77 836.89l11.32 11.32M1604.77 848.21l11.32 -11.32M1613.6 837.07h16M1621.6 829.07v16M1615.94 831.41l11.32 11.32M1615.94 842.73l11.32 -11.32M1624.78 832.51h16M1632.78 824.51v16M1627.12 826.85l11.32 11.32M1627.12 838.17l11.32 -11.32M1635.95 828.85h16M1643.95 820.85v16M1638.29 823.19l11.32 11.32M1638.29 834.51l11.32 -11.32M1647.12 828.85h16M1655.12 820.85v16M1649.46 823.19l11.32 11.32M1649.46 834.51l11.32 -11.32M1658.3 831.59h16M1666.3 823.59v16M1660.64 825.93l11.32 11.32M1660.64 837.25l11.32 -11.32M1669.48 833.42h16M1677.48 825.42v16M1671.82 827.76l11.32 11.32M1671.82 839.08l11.32 -11.32M1680.65 835.25h16M1688.65 827.25v16M1682.99 829.59l11.32 11.32M1682.99 840.9l11.32 -11.32M1691.83 828.85h16M1699.83 820.85v16M1694.16 823.19l11.32 11.32M1694.16 834.51l11.32 -11.32M1703 826.12h16M1711 818.12v16M1705.34 820.46l11.32 11.32M1705.34 831.77l11.32 -11.32M1714.18 829.77h16M1722.18 821.77v16M1716.52 824.11l11.32 11.32M1716.52 835.43l11.32 -11.32M1725.35 828.85h16M1733.35 820.85v16M1727.69 823.19l11.32 11.32M1727.69 834.51l11.32 -11.32M1736.53 825.2h16M1744.53 817.2v16M1738.87 819.54l11.32 11.32M1738.87 830.86l11.32 -11.32M1747.7 821.55h16M1755.7 813.55v16M1750.04 815.89l11.32 11.32M1750.04 827.21l11.32 -11.32M1758.88 816.99h16M1766.88 808.99v16M1761.21 811.33l11.32 11.32M1761.21 822.64l11.32 -11.32M1770.05 813.33h16M1778.05 805.33v16M1772.39 807.67l11.32 11.32M1772.39 818.99l11.32 -11.32M1781.23 810.59h16M1789.23 802.59v16M1783.57 804.93l11.32 11.32M1783.57 816.25l11.32 -11.32M1792.4 800.55h16M1800.4 792.55v16M1794.74 794.89l11.32 11.32M1794.74 806.21l11.32 -11.32M1803.58 795.99h16M1811.58 787.99v16M1805.91 790.33l11.32 11.32M1805.91 801.65l11.32 -11.32M1814.75 799.64h16M1822.75 791.64v16M1817.09 793.98l11.32 11.32M1817.09 805.3l11.32 -11.32M1825.93 800.55h16M1833.93 792.55v16M1828.27 794.89l11.32 11.32M1828.27 806.21l11.32 -11.32M1837.1 811.51h16M1845.1 803.51v16M1839.44 805.85l11.32 11.32M1839.44 817.17l11.32 -11.32M1848.28 819.72h16M1856.28 811.72v16M1850.62 814.06l11.32 11.32M1850.62 825.38l11.32 -11.32M1859.45 828.85h16M1867.45 820.85v16M1861.79 823.19l11.32 11.32M1861.79 834.51l11.32 -11.32M1870.62 831.59h16M1878.62 823.59v16M1872.96 825.93l11.32 11.32M1872.96 837.25l11.32 -11.32M1881.8 827.94h16M1889.8 819.94v16M1884.14 822.28l11.32 11.32M1884.14 833.6l11.32 -11.32M1892.98 817.9h16M1900.98 809.9v16M1895.32 812.24l11.32 11.32M1895.32 823.56l11.32 -11.32M1904.15 808.77h16M1912.15 800.77v16M1906.49 803.11l11.32 11.32M1906.49 814.43l11.32 -11.32M1915.33 799.64h16M1923.33 791.64v16M1917.66 793.98l11.32 11.32M1917.66 805.3l11.32 -11.32M1926.5 786.86h16M1934.5 778.86v16M1928.84 781.2l11.32 11.32M1928.84 792.52l11.32 -11.32M1937.68 777.73h16M1945.68 769.73v16M1940.02 772.07l11.32 11.32M1940.02 783.39l11.32 -11.32M1948.85 762.21h16M1956.85 754.21v16M1951.19 756.55l11.32 11.32M1951.19 767.87l11.32 -11.32M1960.03 730.25h16M1968.03 722.25v16M1962.37 724.59l11.32 11.32M1962.37 735.91l11.32 -11.32M1971.2 287.45h16M1979.2 279.45v16M1973.54 281.79l11.32 11.32M1973.54 293.11l11.32 -11.32" fill="none" stroke="#00ff00" stroke-width="3.6" stroke-linecap="butt"/>
<polyline clip-path="url(#ca)" points="157.68,781.38 168.85,830.68 180.03,867.47 191.2,887.29 202.38,901.89 213.55,902.81 224.73,909.2 235.9,897.33 247.07,902.81 258.25,910.11 269.43,906.46 280.6,917.41 291.77,920.15 302.95,927.46 314.12,930.2 325.3,934.76 336.48,936.59 347.65,940.24 358.83,942.07 370,942.07 381.18,942.07 392.35,942.07 403.53,942.07 414.7,942.07 425.88,942.07 437.05,942.07 448.23,942.07 459.4,942.07 470.58,942.07 481.75,942.07 492.93,941.97 504.1,941.88 515.28,941.79 526.45,941.7 537.62,941.61 548.8,941.52 559.98,941.43 571.15,941.34 582.33,941.24 593.5,941.15 604.67,940.61 615.85,940.06 627.03,939.51 638.2,938.96 649.38,938.41 660.55,937.14 671.73,935.86 682.9,934.58 694.08,933.3 705.25,932.02 716.43,931.11 727.6,930.2 738.78,929.28 749.95,928.37 761.12,927.46 772.3,926.18 783.48,924.9 794.65,923.62 805.83,922.35 817,921.07 828.18,920.88 839.35,920.7 850.53,920.52 861.7,920.34 872.88,920.15 884.05,919.97 895.23,919.79 906.4,919.61 917.58,919.42 928.75,919.24 939.93,918.69 951.1,918.15 962.28,917.6 973.45,917.05 984.62,916.5 995.8,914.73 1006.98,912.96 1018.15,911.19 1029.33,909.42 1040.5,907.65 1051.68,906.86 1062.85,906.08 1074.03,905.29 1085.2,904.51 1096.38,903.72 1107.55,903.26 1118.72,902.81 1129.9,902.35 1141.08,888.75 1152.25,886.37 1163.43,881.81 1174.6,878.16 1185.78,875.42 1196.95,872.68 1208.12,881.81 1219.3,837.98 1230.48,833.42 1241.65,833.42 1252.83,834.33 1264,837.07 1275.18,837.07 1286.35,840.72 1297.53,842.55 1308.7,846.2 1319.88,852.14 1331.05,858.07 1342.23,861.72 1353.4,864.46 1364.58,866.29 1375.75,867.2 1386.93,867.2 1398.1,869.03 1409.28,867.2 1420.45,867.2 1431.62,867.2 1442.8,866.29 1453.98,862.63 1465.15,859.9 1476.33,858.07 1487.5,856.24 1498.68,853.5 1509.85,857.16 1521.03,856.24 1532.2,851.68 1543.38,844.38 1554.55,840.72 1565.73,836.16 1576.9,831.23 1588.08,825.2 1599.25,830.13 1610.43,830.13 1621.6,825.2 1632.78,820.64 1643.95,816.99 1655.12,813.33 1666.3,813.33 1677.48,811.51 1688.65,813.33 1699.83,805.12 1711,805.12 1722.18,805.12 1733.35,800.55 1744.53,796.9 1755.7,788.68 1766.88,785.03 1778.05,781.38 1789.23,775.63 1800.4,769.51 1811.58,764.94 1822.75,768.6 1833.93,763.12 1845.1,761.29 1856.28,763.12 1867.45,764.94 1878.62,764.03 1889.8,767.68 1900.98,765.86 1912.15,765.86 1923.33,765.86 1934.5,770.79 1945.68,772.25 1956.85,770.79 1968.03,773.16 1979.2,772.25 1990.38,774.07 2001.55,773.16 2012.73,773.16 2023.9,772.25 2035.08,770.79 2046.25,768.6 2057.43,765.86 2068.6,760.01 2079.78,760.01 2090.95,756.73 2102.12,756.73 2113.3,755.81 2124.48,753.99 2135.65,748.14 2146.82,744.86 2158,737.55 2169.18,733.9 2180.35,732.99 2191.53,731.71 2202.7,729.34 2213.88,725.41 2225.05,725.41 2236.22,724.22 2247.4,724.22 2258.58,722.95 2269.75,726.6 2280.93,726.6 2292.1,726.6 2303.28,729.34 2314.45,730.25 2325.62,730.25 2336.8,730.25 2347.98,730.25 2359.15,729.34 2370.33,727.51 2381.5,726.6" fill="none" stroke="#ff00ff" stroke-width="3.8" stroke-linejoin="round" stroke-linecap="round"/>
<path d="M152.28 775.98l10.8 10.8M152.28 786.78l10.8 -10.8M163.45 825.28l10.8 10.8M163.45 836.08l10.8 -10.8M174.62 862.07l10.8 10.8M174.62 872.87l10.8 -10.8M185.8 881.89l10.8 10.8M185.8 892.69l10.8 -10.8M196.97 896.49l10.8 10.8M196.97 907.29l10.8 -10.8M208.15 897.41l10.8 10.8M208.15 908.21l10.8 -10.8M219.33 903.8l10.8 10.8M219.33 914.6l10.8 -10.8M230.5 891.93l10.8 10.8M230.5 902.73l10.8 -10.8M241.67 897.41l10.8 10.8M241.67 908.21l10.8 -10.8M252.85 904.71l10.8 10.8M252.85 915.51l10.8 -10.8M264.03 901.06l10.8 10.8M264.03 911.86l10.8 -10.8M275.2 912.01l10.8 10.8M275.2 922.81l10.8 -10.8M286.38 914.75l10.8 10.8M286.38 925.55l10.8 -10.8M297.55 922.06l10.8 10.8M297.55 932.86l10.8 -10.8M308.73 924.8l10.8 10.8M308.73 935.6l10.8 -10.8M319.9 929.36l10.8 10.8M319.9 940.16l10.8 -10.8M331.08 931.19l10.8 10.8M331.08 941.99l10.8 -10.8M342.25 934.84l10.8 10.8M342.25 945.64l10.8 -10.8M353.43 936.67l10.8 10.8M353.43 947.47l10.8 -10.8M364.6 936.67l10.8 10.8M364.6 947.47l10.8 -10.8M375.78 936.67l10.8 10.8M375.78 947.47l10.8 -10.8M386.95 936.67l10.8 10.8M386.95 947.47l10.8 -10.8M398.13 936.67l10.8 10.8M398.13 947.47l10.8 -10.8M409.3 936.67l10.8 10.8M409.3 947.47l10.8 -10.8M420.48 936.67l10.8 10.8M420.48 947.47l10.8 -10.8M431.65 936.67l10.8 10.8M431.65 947.47l10.8 -10.8M442.83 936.67l10.8 10.8M442.83 947.47l10.8 -10.8M454 936.67l10.8 10.8M454 947.47l10.8 -10.8M465.18 936.67l10.8 10.8M465.18 947.47l10.8 -10.8M476.35 936.67l10.8 10.8M476.35 947.47l10.8 -10.8M487.53 936.57l10.8 10.8M487.53 947.37l10.8 -10.8M498.7 936.48l10.8 10.8M498.7 947.28l10.8 -10.8M509.88 936.39l10.8 10.8M509.88 947.19l10.8 -10.8M521.05 936.3l10.8 10.8M521.05 947.1l10.8 -10.8M532.23 936.21l10.8 10.8M532.23 947.01l10.8 -10.8M543.4 936.12l10.8 10.8M543.4 946.92l10.8 -10.8M554.58 936.03l10.8 10.8M554.58 946.83l10.8 -10.8M565.75 935.94l10.8 10.8M565.75 946.74l10.8 -10.8M576.93 935.84l10.8 10.8M576.93 946.64l10.8 -10.8M588.1 935.75l10.8 10.8M588.1 946.55l10.8 -10.8M599.27 935.21l10.8 10.8M599.27 946.01l10.8 -10.8M610.45 934.66l10.8 10.8M610.45 945.46l10.8 -10.8M621.63 934.11l10.8 10.8M621.63 944.91l10.8 -10.8M632.8 933.56l10.8 10.8M632.8 944.36l10.8 -10.8M643.98 933.01l10.8 10.8M643.98 943.81l10.8 -10.8M655.15 931.74l10.8 10.8M655.15 942.54l10.8 -10.8M666.33 930.46l10.8 10.8M666.33 941.26l10.8 -10.8M677.5 929.18l10.8 10.8M677.5 939.98l10.8 -10.8M688.68 927.9l10.8 10.8M688.68 938.7l10.8 -10.8M699.85 926.62l10.8 10.8M699.85 937.42l10.8 -10.8M711.03 925.71l10.8 10.8M711.03 936.51l10.8 -10.8M722.2 924.8l10.8 10.8M722.2 935.6l10.8 -10.8M733.38 923.88l10.8 10.8M733.38 934.68l10.8 -10.8M744.55 922.97l10.8 10.8M744.55 933.77l10.8 -10.8M755.73 922.06l10.8 10.8M755.73 932.86l10.8 -10.8M766.9 920.78l10.8 10.8M766.9 931.58l10.8 -10.8M778.08 919.5l10.8 10.8M778.08 930.3l10.8 -10.8M789.25 918.22l10.8 10.8M789.25 929.02l10.8 -10.8M800.43 916.95l10.8 10.8M800.43 927.75l10.8 -10.8M811.6 915.67l10.8 10.8M811.6 926.47l10.8 -10.8M822.78 915.48l10.8 10.8M822.78 926.28l10.8 -10.8M833.95 915.3l10.8 10.8M833.95 926.1l10.8 -10.8M845.13 915.12l10.8 10.8M845.13 925.92l10.8 -10.8M856.3 914.94l10.8 10.8M856.3 925.74l10.8 -10.8M867.48 914.75l10.8 10.8M867.48 925.55l10.8 -10.8M878.65 914.57l10.8 10.8M878.65 925.37l10.8 -10.8M889.83 914.39l10.8 10.8M889.83 925.19l10.8 -10.8M901 914.21l10.8 10.8M901 925.01l10.8 -10.8M912.18 914.02l10.8 10.8M912.18 924.82l10.8 -10.8M923.35 913.84l10.8 10.8M923.35 924.64l10.8 -10.8M934.53 913.29l10.8 10.8M934.53 924.09l10.8 -10.8M945.7 912.75l10.8 10.8M945.7 923.55l10.8 -10.8M956.88 912.2l10.8 10.8M956.88 923l10.8 -10.8M968.05 911.65l10.8 10.8M968.05 922.45l10.8 -10.8M979.23 911.1l10.8 10.8M979.23 921.9l10.8 -10.8M990.4 909.33l10.8 10.8M990.4 920.13l10.8 -10.8M1001.58 907.56l10.8 10.8M1001.58 918.36l10.8 -10.8M1012.75 905.79l10.8 10.8M1012.75 916.59l10.8 -10.8M1023.93 904.02l10.8 10.8M1023.93 914.82l10.8 -10.8M1035.1 902.25l10.8 10.8M1035.1 913.05l10.8 -10.8M1046.28 901.46l10.8 10.8M1046.28 912.26l10.8 -10.8M1057.45 900.68l10.8 10.8M1057.45 911.48l10.8 -10.8M1068.62 899.89l10.8 10.8M1068.62 910.69l10.8 -10.8M1079.8 899.11l10.8 10.8M1079.8 909.91l10.8 -10.8M1090.97 898.32l10.8 10.8M1090.97 909.12l10.8 -10.8M1102.15 897.86l10.8 10.8M1102.15 908.66l10.8 -10.8M1113.32 897.41l10.8 10.8M1113.32 908.21l10.8 -10.8M1124.5 896.95l10.8 10.8M1124.5 907.75l10.8 -10.8M1135.67 883.35l10.8 10.8M1135.67 894.15l10.8 -10.8M1146.85 880.97l10.8 10.8M1146.85 891.77l10.8 -10.8M1158.03 876.41l10.8 10.8M1158.03 887.21l10.8 -10.8M1169.2 872.76l10.8 10.8M1169.2 883.56l10.8 -10.8M1180.38 870.02l10.8 10.8M1180.38 880.82l10.8 -10.8M1191.55 867.28l10.8 10.8M1191.55 878.08l10.8 -10.8M1202.72 876.41l10.8 10.8M1202.72 887.21l10.8 -10.8M1213.9 832.58l10.8 10.8M1213.9 843.38l10.8 -10.8M1225.08 828.02l10.8 10.8M1225.08 838.82l10.8 -10.8M1236.25 828.02l10.8 10.8M1236.25 838.82l10.8 -10.8M1247.42 828.93l10.8 10.8M1247.42 839.73l10.8 -10.8M1258.6 831.67l10.8 10.8M1258.6 842.47l10.8 -10.8M1269.78 831.67l10.8 10.8M1269.78 842.47l10.8 -10.8M1280.95 835.32l10.8 10.8M1280.95 846.12l10.8 -10.8M1292.12 837.15l10.8 10.8M1292.12 847.95l10.8 -10.8M1303.3 840.8l10.8 10.8M1303.3 851.6l10.8 -10.8M1314.47 846.74l10.8 10.8M1314.47 857.54l10.8 -10.8M1325.65 852.67l10.8 10.8M1325.65 863.47l10.8 -10.8M1336.83 856.32l10.8 10.8M1336.83 867.12l10.8 -10.8M1348 859.06l10.8 10.8M1348 869.86l10.8 -10.8M1359.17 860.89l10.8 10.8M1359.17 871.69l10.8 -10.8M1370.35 861.8l10.8 10.8M1370.35 872.6l10.8 -10.8M1381.53 861.8l10.8 10.8M1381.53 872.6l10.8 -10.8M1392.7 863.63l10.8 10.8M1392.7 874.43l10.8 -10.8M1403.88 861.8l10.8 10.8M1403.88 872.6l10.8 -10.8M1415.05 861.8l10.8 10.8M1415.05 872.6l10.8 -10.8M1426.22 861.8l10.8 10.8M1426.22 872.6l10.8 -10.8M1437.4 860.89l10.8 10.8M1437.4 871.69l10.8 -10.8M1448.58 857.24l10.8 10.8M1448.58 868.03l10.8 -10.8M1459.75 854.5l10.8 10.8M1459.75 865.3l10.8 -10.8M1470.92 852.67l10.8 10.8M1470.92 863.47l10.8 -10.8M1482.1 850.84l10.8 10.8M1482.1 861.64l10.8 -10.8M1493.28 848.11l10.8 10.8M1493.28 858.9l10.8 -10.8M1504.45 851.76l10.8 10.8M1504.45 862.56l10.8 -10.8M1515.62 850.84l10.8 10.8M1515.62 861.64l10.8 -10.8M1526.8 846.28l10.8 10.8M1526.8 857.08l10.8 -10.8M1537.97 838.98l10.8 10.8M1537.97 849.77l10.8 -10.8M1549.15 835.32l10.8 10.8M1549.15 846.12l10.8 -10.8M1560.33 830.76l10.8 10.8M1560.33 841.56l10.8 -10.8M1571.5 825.83l10.8 10.8M1571.5 836.63l10.8 -10.8M1582.67 819.8l10.8 10.8M1582.67 830.6l10.8 -10.8M1593.85 824.73l10.8 10.8M1593.85 835.53l10.8 -10.8M1605.03 824.73l10.8 10.8M1605.03 835.53l10.8 -10.8M1616.2 819.8l10.8 10.8M1616.2 830.6l10.8 -10.8M1627.38 815.24l10.8 10.8M1627.38 826.04l10.8 -10.8M1638.55 811.59l10.8 10.8M1638.55 822.38l10.8 -10.8M1649.72 807.93l10.8 10.8M1649.72 818.73l10.8 -10.8M1660.9 807.93l10.8 10.8M1660.9 818.73l10.8 -10.8M1672.08 806.11l10.8 10.8M1672.08 816.91l10.8 -10.8M1683.25 807.93l10.8 10.8M1683.25 818.73l10.8 -10.8M1694.42 799.72l10.8 10.8M1694.42 810.52l10.8 -10.8M1705.6 799.72l10.8 10.8M1705.6 810.52l10.8 -10.8M1716.78 799.72l10.8 10.8M1716.78 810.52l10.8 -10.8M1727.95 795.15l10.8 10.8M1727.95 805.95l10.8 -10.8M1739.12 791.5l10.8 10.8M1739.12 802.3l10.8 -10.8M1750.3 783.28l10.8 10.8M1750.3 794.08l10.8 -10.8M1761.47 779.63l10.8 10.8M1761.47 790.43l10.8 -10.8M1772.65 775.98l10.8 10.8M1772.65 786.78l10.8 -10.8M1783.83 770.23l10.8 10.8M1783.83 781.03l10.8 -10.8M1795 764.11l10.8 10.8M1795 774.91l10.8 -10.8M1806.17 759.54l10.8 10.8M1806.17 770.34l10.8 -10.8M1817.35 763.2l10.8 10.8M1817.35 774l10.8 -10.8M1828.53 757.72l10.8 10.8M1828.53 768.52l10.8 -10.8M1839.7 755.89l10.8 10.8M1839.7 766.69l10.8 -10.8M1850.88 757.72l10.8 10.8M1850.88 768.52l10.8 -10.8M1862.05 759.54l10.8 10.8M1862.05 770.34l10.8 -10.8M1873.22 758.63l10.8 10.8M1873.22 769.43l10.8 -10.8M1884.4 762.28l10.8 10.8M1884.4 773.08l10.8 -10.8M1895.58 760.46l10.8 10.8M1895.58 771.26l10.8 -10.8M1906.75 760.46l10.8 10.8M1906.75 771.26l10.8 -10.8M1917.92 760.46l10.8 10.8M1917.92 771.26l10.8 -10.8M1929.1 765.39l10.8 10.8M1929.1 776.19l10.8 -10.8M1940.28 766.85l10.8 10.8M1940.28 777.65l10.8 -10.8M1951.45 765.39l10.8 10.8M1951.45 776.19l10.8 -10.8M1962.62 767.76l10.8 10.8M1962.62 778.56l10.8 -10.8M1973.8 766.85l10.8 10.8M1973.8 777.65l10.8 -10.8M1984.98 768.67l10.8 10.8M1984.98 779.47l10.8 -10.8M1996.15 767.76l10.8 10.8M1996.15 778.56l10.8 -10.8M2007.33 767.76l10.8 10.8M2007.33 778.56l10.8 -10.8M2018.5 766.85l10.8 10.8M2018.5 777.65l10.8 -10.8M2029.67 765.39l10.8 10.8M2029.67 776.19l10.8 -10.8M2040.85 763.2l10.8 10.8M2040.85 774l10.8 -10.8M2052.03 760.46l10.8 10.8M2052.03 771.26l10.8 -10.8M2063.2 754.61l10.8 10.8M2063.2 765.41l10.8 -10.8M2074.38 754.61l10.8 10.8M2074.38 765.41l10.8 -10.8M2085.55 751.33l10.8 10.8M2085.55 762.13l10.8 -10.8M2096.72 751.33l10.8 10.8M2096.72 762.13l10.8 -10.8M2107.9 750.41l10.8 10.8M2107.9 761.21l10.8 -10.8M2119.08 748.59l10.8 10.8M2119.08 759.39l10.8 -10.8M2130.25 742.74l10.8 10.8M2130.25 753.54l10.8 -10.8M2141.42 739.46l10.8 10.8M2141.42 750.26l10.8 -10.8M2152.6 732.15l10.8 10.8M2152.6 742.95l10.8 -10.8M2163.78 728.5l10.8 10.8M2163.78 739.3l10.8 -10.8M2174.95 727.59l10.8 10.8M2174.95 738.39l10.8 -10.8M2186.12 726.31l10.8 10.8M2186.12 737.11l10.8 -10.8M2197.3 723.94l10.8 10.8M2197.3 734.74l10.8 -10.8M2208.47 720.01l10.8 10.8M2208.47 730.81l10.8 -10.8M2219.65 720.01l10.8 10.8M2219.65 730.81l10.8 -10.8M2230.82 718.82l10.8 10.8M2230.82 729.62l10.8 -10.8M2242 718.82l10.8 10.8M2242 729.62l10.8 -10.8M2253.18 717.55l10.8 10.8M2253.18 728.35l10.8 -10.8M2264.35 721.2l10.8 10.8M2264.35 732l10.8 -10.8M2275.53 721.2l10.8 10.8M2275.53 732l10.8 -10.8M2286.7 721.2l10.8 10.8M2286.7 732l10.8 -10.8M2297.88 723.94l10.8 10.8M2297.88 734.74l10.8 -10.8M2309.05 724.85l10.8 10.8M2309.05 735.65l10.8 -10.8M2320.22 724.85l10.8 10.8M2320.22 735.65l10.8 -10.8M2331.4 724.85l10.8 10.8M2331.4 735.65l10.8 -10.8M2342.58 724.85l10.8 10.8M2342.58 735.65l10.8 -10.8M2353.75 723.94l10.8 10.8M2353.75 734.74l10.8 -10.8M2364.93 722.11l10.8 10.8M2364.93 732.91l10.8 -10.8M2376.1 721.2l10.8 10.8M2376.1 732l10.8 -10.8" fill="none" stroke="#ff00ff" stroke-width="3.6" stroke-linecap="butt"/>
<polyline clip-path="url(#ca)" points="157.68,809.68 168.85,856.24 180.03,885.46 191.2,887.83 202.38,890.94 213.55,890.94 224.73,890.94 235.9,884.55 247.07,887.29 258.25,895.5 269.43,895.5 280.6,908.28 291.77,908.28 302.95,917.41 314.12,921.07 325.3,925.63 336.48,926.54 347.65,930.2 358.83,935.67 370,938.41 381.18,939.33 392.35,939.33 403.53,939.33 414.7,939.33 425.88,939.33 437.05,939.33 448.23,939.33 459.4,939.33 470.58,939.33 481.75,939.33 492.93,939.33 504.1,939.33 515.28,936.59 526.45,936.59 537.62,936.59 548.8,936.59 559.98,936.59 571.15,936.59 582.33,938.41 593.5,939.6 604.67,939.13 615.85,938.65 627.03,938.18 638.2,937.7 649.38,937.23 660.55,935.82 671.73,934.42 682.9,933.01 694.08,931.6 705.25,930.2 716.43,929.28 727.6,928.37 738.78,927.46 749.95,926.54 761.12,925.63 772.3,924.11 783.48,922.59 794.65,921.07 805.83,920.15 817,919.24 828.18,919.24 839.35,919.24 850.53,919.55 861.7,919.85 872.88,920.15 884.05,920.15 895.23,920.15 906.4,920.15 917.58,920.15 928.75,920.15 939.93,920.15 951.1,920.15 962.28,920.15 973.45,920.15 984.62,920.15 995.8,919.42 1006.98,918.69 1018.15,917.96 1029.33,917.23 1040.5,916.5 1051.68,915.59 1062.85,915.59 1074.03,915.59 1085.2,915.59 1096.38,915.59 1107.55,915.59 1118.72,915.59 1129.9,915.59 1141.08,907.37 1152.25,905.55 1163.43,902.81 1174.6,897.69 1185.78,892.76 1196.95,890.94 1208.12,871.76 1219.3,854.42 1230.48,853.5 1241.65,855.33 1252.83,855.33 1264,856.24 1275.18,858.07 1286.35,859.9 1297.53,869.3 1308.7,876.33 1319.88,883.63 1331.05,891.85 1342.23,896.42 1353.4,900.07 1364.58,901.89 1375.75,903.72 1386.93,903.72 1398.1,901.89 1409.28,895.5 1420.45,893.68 1431.62,890.02 1442.8,886.37 1453.98,882.72 1465.15,876.33 1476.33,875.42 1487.5,873.59 1498.68,871.76 1509.85,872.68 1521.03,870.85 1532.2,867.29 1543.38,866.29 1554.55,862.63 1565.73,861.72 1576.9,858.98 1588.08,857.16 1599.25,858.98 1610.43,856.24 1621.6,850.77 1632.78,848.94 1643.95,850.77 1655.12,848.94 1666.3,850.77 1677.48,851.68 1688.65,850.77 1699.83,848.94 1711,849.85 1722.18,853.5 1733.35,853.5 1744.53,853.5 1755.7,851.68 1766.88,849.85 1778.05,848.03 1789.23,849.85 1800.4,843.01 1811.58,838.44 1822.75,840.27 1833.93,838.44 1845.1,838.44 1856.28,837.53 1867.45,837.53 1878.62,840.27 1889.8,836.61 1900.98,829.95 1912.15,829.77 1923.33,829.77 1934.5,829.4 1945.68,828.31 1956.85,828.31 1968.03,830.68 1979.2,747.6 1990.38,821.55 2001.55,823.38 2012.73,824.29 2023.9,823.38 2035.08,823.38 2046.25,820.64 2057.43,818.81 2068.6,816.99 2079.78,816.07 2090.95,820.64 2102.12,831.59 2113.3,835.25 2124.48,838.9 2135.65,842.55 2146.82,846.2 2158,848.03 2169.18,848.94 2180.35,851.68 2191.53,851.68 2202.7,855.33 2213.88,855.33 2225.05,852.59 2236.22,855.33 2247.4,851.68 2258.58,851.68 2269.75,851.68 2280.93,847.11 2292.1,847.11 2303.28,843.46 2314.45,839.81 2325.62,837.98 2336.8,834.33 2347.98,830.68 2359.15,816.99 2370.33,811.51 2381.5,801.46" fill="none" stroke="#0000ff" stroke-width="3.8" stroke-linejoin="round" stroke-linecap="round"/>
<path d="M157.68 819.03L165.78 805H149.58ZM168.85 865.6L176.95 851.57H160.75ZM180.03 894.81L188.12 880.78H171.93ZM191.2 897.19L199.3 883.16H183.1ZM202.38 900.29L210.47 886.26H194.28ZM213.55 900.29L221.65 886.26H205.45ZM224.73 900.29L232.83 886.26H216.63ZM235.9 893.9L244 879.87H227.8ZM247.07 896.64L255.17 882.61H238.97ZM258.25 904.86L266.35 890.83H250.15ZM269.43 904.86L277.53 890.83H261.32ZM280.6 917.64L288.7 903.61H272.5ZM291.77 917.64L299.88 903.61H283.67ZM302.95 926.77L311.05 912.74H294.85ZM314.12 930.42L322.23 916.39H306.02ZM325.3 934.99L333.4 920.96H317.2ZM336.48 935.9L344.58 921.87H328.38ZM347.65 939.55L355.75 925.52H339.55ZM358.83 945.03L366.93 931H350.73ZM370 947.77L378.1 933.74H361.9ZM381.18 948.68L389.28 934.65H373.07ZM392.35 948.68L400.45 934.65H384.25ZM403.53 948.68L411.63 934.65H395.43ZM414.7 948.68L422.8 934.65H406.6ZM425.88 948.68L433.98 934.65H417.77ZM437.05 948.68L445.15 934.65H428.95ZM448.23 948.68L456.33 934.65H440.12ZM459.4 948.68L467.5 934.65H451.3ZM470.58 948.68L478.68 934.65H462.48ZM481.75 948.68L489.85 934.65H473.65ZM492.93 948.68L501.03 934.65H484.82ZM504.1 948.68L512.2 934.65H496ZM515.28 945.94L523.38 931.91H507.18ZM526.45 945.94L534.55 931.91H518.35ZM537.62 945.94L545.73 931.91H529.52ZM548.8 945.94L556.9 931.91H540.7ZM559.98 945.94L568.08 931.91H551.88ZM571.15 945.94L579.25 931.91H563.05ZM582.33 947.77L590.43 933.74H574.23ZM593.5 948.95L601.6 934.92H585.4ZM604.67 948.48L612.77 934.45H596.57ZM615.85 948L623.95 933.97H607.75ZM627.03 947.53L635.13 933.5H618.93ZM638.2 947.05L646.3 933.03H630.1ZM649.38 946.58L657.48 932.55H641.27ZM660.55 945.17L668.65 931.14H652.45ZM671.73 943.77L679.83 929.74H663.62ZM682.9 942.36L691 928.33H674.8ZM694.08 940.96L702.18 926.93H685.98ZM705.25 939.55L713.35 925.52H697.15ZM716.43 938.64L724.53 924.61H708.33ZM727.6 937.72L735.7 923.69H719.5ZM738.78 936.81L746.88 922.78H730.68ZM749.95 935.9L758.05 921.87H741.85ZM761.12 934.99L769.23 920.96H753.02ZM772.3 933.46L780.4 919.43H764.2ZM783.48 931.94L791.58 917.91H775.38ZM794.65 930.42L802.75 916.39H786.55ZM805.83 929.51L813.93 915.48H797.73ZM817 928.59L825.1 914.56H808.9ZM828.18 928.59L836.28 914.56H820.08ZM839.35 928.59L847.45 914.56H831.25ZM850.53 928.9L858.63 914.87H842.43ZM861.7 929.2L869.8 915.17H853.6ZM872.88 929.51L880.98 915.48H864.77ZM884.05 929.51L892.15 915.48H875.95ZM895.23 929.51L903.33 915.48H887.12ZM906.4 929.51L914.5 915.48H898.3ZM917.58 929.51L925.68 915.48H909.48ZM928.75 929.51L936.85 915.48H920.65ZM939.93 929.51L948.03 915.48H931.83ZM951.1 929.51L959.2 915.48H943ZM962.28 929.51L970.38 915.48H954.18ZM973.45 929.51L981.55 915.48H965.35ZM984.62 929.51L992.73 915.48H976.52ZM995.8 928.78L1003.9 914.75H987.7ZM1006.98 928.05L1015.08 914.02H998.88ZM1018.15 927.32L1026.25 913.29H1010.05ZM1029.33 926.59L1037.42 912.56H1021.23ZM1040.5 925.86L1048.6 911.83H1032.4ZM1051.68 924.94L1059.78 910.91H1043.58ZM1062.85 924.94L1070.95 910.91H1054.75ZM1074.03 924.94L1082.12 910.91H1065.93ZM1085.2 924.94L1093.3 910.91H1077.1ZM1096.38 924.94L1104.47 910.91H1088.28ZM1107.55 924.94L1115.65 910.91H1099.45ZM1118.72 924.94L1126.82 910.91H1110.62ZM1129.9 924.94L1138 910.91H1121.8ZM1141.08 916.73L1149.17 902.7H1132.98ZM1152.25 914.9L1160.35 900.87H1144.15ZM1163.43 912.16L1171.53 898.13H1155.33ZM1174.6 907.05L1182.7 893.02H1166.5ZM1185.78 902.12L1193.88 888.09H1177.68ZM1196.95 900.29L1205.05 886.26H1188.85ZM1208.12 881.12L1216.22 867.09H1200.03ZM1219.3 863.77L1227.4 849.74H1211.2ZM1230.48 862.86L1238.58 848.83H1222.38ZM1241.65 864.68L1249.75 850.65H1233.55ZM1252.83 864.68L1260.92 850.65H1244.73ZM1264 865.6L1272.1 851.57H1255.9ZM1275.18 867.42L1283.28 853.39H1267.08ZM1286.35 869.25L1294.45 855.22H1278.25ZM1297.53 878.65L1305.62 864.62H1289.43ZM1308.7 885.68L1316.8 871.65H1300.6ZM1319.88 892.99L1327.97 878.96H1311.78ZM1331.05 901.2L1339.15 887.17H1322.95ZM1342.23 905.77L1350.33 891.74H1334.13ZM1353.4 909.42L1361.5 895.39H1345.3ZM1364.58 911.25L1372.67 897.22H1356.48ZM1375.75 913.07L1383.85 899.04H1367.65ZM1386.93 913.07L1395.03 899.04H1378.83ZM1398.1 911.25L1406.2 897.22H1390ZM1409.28 904.86L1417.38 890.83H1401.18ZM1420.45 903.03L1428.55 889H1412.35ZM1431.62 899.38L1439.72 885.35H1423.53ZM1442.8 895.73L1450.9 881.7H1434.7ZM1453.98 892.07L1462.08 878.04H1445.88ZM1465.15 885.68L1473.25 871.65H1457.05ZM1476.33 884.77L1484.42 870.74H1468.23ZM1487.5 882.94L1495.6 868.91H1479.4ZM1498.68 881.12L1506.78 867.09H1490.58ZM1509.85 882.03L1517.95 868H1501.75ZM1521.03 880.21L1529.12 866.18H1512.93ZM1532.2 876.64L1540.3 862.61H1524.1ZM1543.38 875.64L1551.47 861.61H1535.28ZM1554.55 871.99L1562.65 857.96H1546.45ZM1565.73 871.08L1573.83 857.05H1557.63ZM1576.9 868.34L1585 854.31H1568.8ZM1588.08 866.51L1596.17 852.48H1579.98ZM1599.25 868.34L1607.35 854.31H1591.15ZM1610.43 865.6L1618.53 851.57H1602.33ZM1621.6 860.12L1629.7 846.09H1613.5ZM1632.78 858.29L1640.88 844.26H1624.68ZM1643.95 860.12L1652.05 846.09H1635.85ZM1655.12 858.29L1663.22 844.26H1647.03ZM1666.3 860.12L1674.4 846.09H1658.2ZM1677.48 861.03L1685.58 847H1669.38ZM1688.65 860.12L1696.75 846.09H1680.55ZM1699.83 858.29L1707.92 844.26H1691.73ZM1711 859.21L1719.1 845.18H1702.9ZM1722.18 862.86L1730.28 848.83H1714.08ZM1733.35 862.86L1741.45 848.83H1725.25ZM1744.53 862.86L1752.62 848.83H1736.43ZM1755.7 861.03L1763.8 847H1747.6ZM1766.88 859.21L1774.97 845.18H1758.78ZM1778.05 857.38L1786.15 843.35H1769.95ZM1789.23 859.21L1797.33 845.18H1781.13ZM1800.4 852.36L1808.5 838.33H1792.3ZM1811.58 847.79L1819.67 833.76H1803.48ZM1822.75 849.62L1830.85 835.59H1814.65ZM1833.93 847.79L1842.03 833.76H1825.83ZM1845.1 847.79L1853.2 833.76H1837ZM1856.28 846.88L1864.38 832.85H1848.18ZM1867.45 846.88L1875.55 832.85H1859.35ZM1878.62 849.62L1886.72 835.59H1870.53ZM1889.8 845.97L1897.9 831.94H1881.7ZM1900.98 839.3L1909.08 825.27H1892.88ZM1912.15 839.12L1920.25 825.09H1904.05ZM1923.33 839.12L1931.42 825.09H1915.23ZM1934.5 838.75L1942.6 824.73H1926.4ZM1945.68 837.66L1953.78 823.63H1937.58ZM1956.85 837.66L1964.95 823.63H1948.75ZM1968.03 840.03L1976.12 826H1959.93ZM1979.2 756.95L1987.3 742.92H1971.1ZM1990.38 830.9L1998.48 816.87H1982.28ZM2001.55 832.73L2009.65 818.7H1993.45ZM2012.73 833.64L2020.83 819.61H2004.63ZM2023.9 832.73L2032 818.7H2015.8ZM2035.08 832.73L2043.17 818.7H2026.98ZM2046.25 829.99L2054.35 815.96H2038.15ZM2057.43 828.16L2065.53 814.13H2049.33ZM2068.6 826.34L2076.7 812.31H2060.5ZM2079.78 825.43L2087.88 811.4H2071.68ZM2090.95 829.99L2099.05 815.96H2082.85ZM2102.12 840.95L2110.22 826.92H2094.03ZM2113.3 844.6L2121.4 830.57H2105.2ZM2124.48 848.25L2132.58 834.22H2116.38ZM2135.65 851.9L2143.75 837.87H2127.55ZM2146.82 855.55L2154.92 841.52H2138.72ZM2158 857.38L2166.1 843.35H2149.9ZM2169.18 858.29L2177.28 844.26H2161.08ZM2180.35 861.03L2188.45 847H2172.25ZM2191.53 861.03L2199.62 847H2183.43ZM2202.7 864.68L2210.8 850.65H2194.6ZM2213.88 864.68L2221.97 850.65H2205.78ZM2225.05 861.95L2233.15 847.92H2216.95ZM2236.22 864.68L2244.32 850.65H2228.12ZM2247.4 861.03L2255.5 847H2239.3ZM2258.58 861.03L2266.68 847H2250.48ZM2269.75 861.03L2277.85 847H2261.65ZM2280.93 856.47L2289.03 842.44H2272.83ZM2292.1 856.47L2300.2 842.44H2284ZM2303.28 852.82L2311.38 838.79H2295.18ZM2314.45 849.16L2322.55 835.13H2306.35ZM2325.62 847.34L2333.72 833.31H2317.53ZM2336.8 843.69L2344.9 829.66H2328.7ZM2347.98 840.03L2356.08 826H2339.88ZM2359.15 826.34L2367.25 812.31H2351.05ZM2370.33 820.86L2378.43 806.83H2362.23ZM2381.5 810.82L2389.6 796.79H2373.4Z" fill="none" stroke="#0000ff" stroke-width="3.6" stroke-linejoin="miter"/>
</g>
<rect x="2166.5" y="70.5" width="190.0" height="214.0" fill="#fff" stroke="#262626" stroke-width="1"/>
<g shape-rendering="crispEdges"><path d="M2173 100H2231" stroke="#ff0000" stroke-width="3.8" fill="none"/>
<path d="M2202 90.65L2210.1 104.68H2193.9Z" fill="none" stroke="#ff0000" stroke-width="3.6" stroke-linejoin="miter"/></g>
<text transform="translate(2235.7 116) scale(0.965 1)" font-size="41.8" fill="#000" font-family="'Liberation Sans', Arial, Helvetica, sans-serif">EKF</text>
<g shape-rendering="crispEdges"><path d="M2173 152.2H2231" stroke="#00ff00" stroke-width="3.8" fill="none"/>
<path d="M2194 152.2h16M2202 144.2v16M2196.34 146.54l11.32 11.32M2196.34 157.86l11.32 -11.32" fill="none" stroke="#00ff00" stroke-width="3.6" stroke-linecap="butt"/></g>
<text transform="translate(2235.7 168.2) scale(0.965 1)" font-size="41.8" fill="#000" font-family="'Liberation Sans', Arial, Helvetica, sans-serif">IEKF</text>
<g shape-rendering="crispEdges"><path d="M2173 204.4H2231" stroke="#ff00ff" stroke-width="3.8" fill="none"/>
<path d="M2196.6 199l10.8 10.8M2196.6 209.8l10.8 -10.8" fill="none" stroke="#ff00ff" stroke-width="3.6" stroke-linecap="butt"/></g>
<text transform="translate(2235.7 220.4) scale(0.965 1)" font-size="41.8" fill="#000" font-family="'Liberation Sans', Arial, Helvetica, sans-serif">RUF</text>
<g shape-rendering="crispEdges"><path d="M2173 256.6H2231" stroke="#0000ff" stroke-width="3.8" fill="none"/>
<path d="M2202 265.95L2210.1 251.92H2193.9Z" fill="none" stroke="#0000ff" stroke-width="3.6" stroke-linejoin="miter"/></g>
<text transform="translate(2235.7 272.6) scale(0.965 1)" font-size="41.8" fill="#000" font-family="'Liberation Sans', Arial, Helvetica, sans-serif">NGDF</text>
<rect x="134.5" y="1314.5" width="2247.0" height="912.0" fill="#fff" stroke="#262626" stroke-width="1"/>
<path d="M134.5 2226.5v-22.47M134.5 1314.5v22.47M358.5 2226.5v-22.47M358.5 1314.5v22.47M583.5 2226.5v-22.47M583.5 1314.5v22.47M808.5 2226.5v-22.47M808.5 1314.5v22.47M1032.5 2226.5v-22.47M1032.5 1314.5v22.47M1257.5 2226.5v-22.47M1257.5 1314.5v22.47M1482.5 2226.5v-22.47M1482.5 1314.5v22.47M1706.5 2226.5v-22.47M1706.5 1314.5v22.47M1931.5 2226.5v-22.47M1931.5 1314.5v22.47M2156.5 2226.5v-22.47M2156.5 1314.5v22.47M2381.5 2226.5v-22.47M2381.5 1314.5v22.47M134.5 2226.5h22.47M2381.5 2226.5h-22.47M134.5 2044.5h22.47M2381.5 2044.5h-22.47M134.5 1861.5h22.47M2381.5 1861.5h-22.47M134.5 1679.5h22.47M2381.5 1679.5h-22.47M134.5 1496.5h22.47M2381.5 1496.5h-22.47M134.5 1314.5h22.47M2381.5 1314.5h-22.47" stroke="#262626" stroke-width="1" fill="none"/>
<text transform="translate(134.5 2280.8) scale(0.975 1)" text-anchor="middle" font-size="40.4" fill="#262626" font-family="'Liberation Sans', Arial, Helvetica, sans-serif">0</text>
<text transform="translate(359.2 2280.8) scale(0.975 1)" text-anchor="middle" font-size="40.4" fill="#262626" font-family="'Liberation Sans', Arial, Helvetica, sans-serif">20</text>
<text transform="translate(583.9 2280.8) scale(0.975 1)" text-anchor="middle" font-size="40.4" fill="#262626" font-family="'Liberation Sans', Arial, Helvetica, sans-serif">40</text>
<text transform="translate(808.6 2280.8) scale(0.975 1)" text-anchor="middle" font-size="40.4" fill="#262626" font-family="'Liberation Sans', Arial, Helvetica, sans-serif">60</text>
<text transform="translate(1033.3 2280.8) scale(0.975 1)" text-anchor="middle" font-size="40.4" fill="#262626" font-family="'Liberation Sans', Arial, Helvetica, sans-serif">80</text>
<text transform="translate(1258 2280.8) scale(0.975 1)" text-anchor="middle" font-size="40.4" fill="#262626" font-family="'Liberation Sans', Arial, Helvetica, sans-serif">100</text>
<text transform="translate(1482.7 2280.8) scale(0.975 1)" text-anchor="middle" font-size="40.4" fill="#262626" font-family="'Liberation Sans', Arial, Helvetica, sans-serif">120</text>
<text transform="translate(1707.4 2280.8) scale(0.975 1)" text-anchor="middle" font-size="40.4" fill="#262626" font-family="'Liberation Sans', Arial, Helvetica, sans-serif">140</text>
<text transform="translate(1932.1 2280.8) scale(0.975 1)" text-anchor="middle" font-size="40.4" fill="#262626" font-family="'Liberation Sans', Arial, Helvetica, sans-serif">160</text>
<text transform="translate(2156.8 2280.8) scale(0.975 1)" text-anchor="middle" font-size="40.4" fill="#262626" font-family="'Liberation Sans', Arial, Helvetica, sans-serif">180</text>
<text transform="translate(2381.5 2280.8) scale(0.975 1)" text-anchor="middle" font-size="40.4" fill="#262626" font-family="'Liberation Sans', Arial, Helvetica, sans-serif">200</text>
<text transform="translate(121 2241.8) scale(0.975 1)" text-anchor="end" font-size="40.4" fill="#262626" font-family="'Liberation Sans', Arial, Helvetica, sans-serif">0</text>
<text transform="translate(121 2059.4) scale(0.975 1)" text-anchor="end" font-size="40.4" fill="#262626" font-family="'Liberation Sans', Arial, Helvetica, sans-serif">2</text>
<text transform="translate(121 1877) scale(0.975 1)" text-anchor="end" font-size="40.4" fill="#262626" font-family="'Liberation Sans', Arial, Helvetica, sans-serif">4</text>
<text transform="translate(121 1694.6) scale(0.975 1)" text-anchor="end" font-size="40.4" fill="#262626" font-family="'Liberation Sans', Arial, Helvetica, sans-serif">6</text>
<text transform="translate(121 1512.2) scale(0.975 1)" text-anchor="end" font-size="40.4" fill="#262626" font-family="'Liberation Sans', Arial, Helvetica, sans-serif">8</text>
<text transform="translate(121 1329.8) scale(0.975 1)" text-anchor="end" font-size="40.4" fill="#262626" font-family="'Liberation Sans', Arial, Helvetica, sans-serif">10</text>
<text x="1258" y="2337.5" text-anchor="middle" font-size="44.5" fill="#262626" font-family="'Liberation Sans', Arial, Helvetica, sans-serif">Time Steps</text>
<text transform="translate(59.3 1770.5) rotate(-90)" x="0" y="0" text-anchor="middle" font-size="44.0" fill="#262626" font-family="'Liberation Sans', Arial, Helvetica, sans-serif">normalized Vel RMSE</text>
<clipPath id="cb"><rect x="134.5" y="1312.5" width="2247.0" height="914.0"/></clipPath>
<g shape-rendering="crispEdges">
<polyline clip-path="url(#cb)" points="145.74,2075.11 156.97,1753.17 168.2,1814.28 179.44,1915.51 190.68,1956.55 201.91,2009.44 213.14,2044.1 224.38,2055.96 235.62,2071.46 246.85,2095.17 258.08,2110.68 269.32,2124.36 280.56,2097.91 291.79,2149.44 303.02,2175.79 314.26,2183.73 325.5,2196.86 336.73,2196.86 347.96,2198.23 359.2,2204.61 370.44,2208.26 381.67,2209.17 392.9,2207.35 404.14,2208.72 415.38,2209.17 426.61,2210.08 437.84,2211 449.08,2209.17 460.31,2210.08 471.55,2211.91 482.78,2210.08 494.02,2208.26 505.25,2196.4 516.49,2201.88 527.72,2199.14 538.96,2204.61 550.19,2206.44 561.43,2208.72 572.66,2210.08 583.9,2209.17 595.13,2203.7 606.37,2205.52 617.61,2204.61 628.84,2199.14 640.08,2204.61 651.31,2199.14 662.54,2195.49 673.78,2195.49 685.01,2192.76 696.25,2190.93 707.49,2194.58 718.72,2199.14 729.95,2192.76 741.19,2193.67 752.42,2177.25 763.66,2181.81 774.89,2179.99 786.13,2178.16 797.37,2174.06 808.6,2170.87 819.83,2161.75 831.07,2185.46 842.3,2165.85 853.54,2086.96 864.77,2152.63 876.01,2171.78 887.25,2170.87 898.48,2176.34 909.71,2178.16 920.95,2188.2 932.18,2192.76 943.42,2192.76 954.65,2192.76 965.89,2195.49 977.12,2190.93 988.36,2188.2 999.59,2145.7 1010.83,2183.64 1022.06,2167.22 1033.3,2203.88 1044.53,2202.79 1055.77,2202.79 1067.01,2201.88 1078.24,2201.88 1089.47,2199.14 1100.71,2198.23 1111.94,2201.88 1123.18,2198.23 1134.41,2194.58 1145.65,2186.37 1156.88,2151.72 1168.12,2192.76 1179.36,2190.02 1190.59,2190.93 1201.83,2190.02 1213.06,2183.64 1224.29,2175.43 1235.53,2192.76 1246.76,2184.55 1258,2194.58 1269.23,2159.92 1280.47,2156.28 1291.7,2069.64 1302.94,2131.65 1314.17,2138.04 1325.41,2120.25 1336.64,2065.08 1347.88,2041.36 1359.12,2055.5 1370.35,1968.4 1381.59,1879.03 1392.82,1782.36 1404.05,1849.84 1415.29,1840.72 1426.52,1654.68 1437.76,1922.8 1448.99,1983 1460.23,2014 1471.46,2107.94 1482.7,2125.54 1493.93,2124.36 1505.17,2111.59 1516.4,2107.94 1527.64,2111.59 1538.88,2113.41 1550.11,2109.76 1561.35,2106.57 1572.58,2113.41 1583.81,2114.32 1595.05,2117.97 1606.28,2130.28 1617.52,2137.12 1628.75,2125.54 1639.99,2136.21 1651.22,2130.28 1662.46,2153.9 1673.69,2163.57 1684.93,2155.36 1696.16,2152.63 1707.4,2153.54 1718.63,2159.92 1729.87,2163.57 1741.11,2151.72 1752.34,2152.63 1763.57,2149.89 1774.81,2125.54 1786.04,2115.24 1797.28,2107.94 1808.51,2144.42 1819.75,2035.89 1830.98,2047.75 1842.22,2158.1 1853.45,2171.78 1864.69,2110.22 1875.92,1984.82 1887.16,2137.12 1898.39,2062.34 1909.63,2094.26 1920.87,2131.65 1932.1,2139.4 1943.33,2157.19 1954.57,2148.71 1965.8,2116.15 1977.04,37.7 1988.27,-3245.5 1999.51,-3245.5 2010.74,-3245.5 2021.98,-3245.5 2033.21,-3245.5 2044.45,-3245.5 2055.68,-3245.5 2066.92,-3245.5 2078.15,-3245.5 2089.39,958.82 2100.62,2015.83 2111.86,2015.83 2123.09,2089.7 2134.33,2075.11 2145.56,2061.43 2156.8,2081.49 2168.03,2081.49 2179.27,2079.67 2190.51,2077.84 2201.74,2060.52 2212.97,2037.72 2224.21,1972.05 2235.44,1934.66 2246.68,1978.44 2257.91,1980.26 2269.15,1981.17 2280.38,1955.64 2291.62,1976.61 2302.86,1988.47 2314.09,1972.05 2325.32,1940.13 2336.56,1954.72 2347.8,1979.35 2359.03,1997.59 2370.26,2026.77 2381.5,2038.63" fill="none" stroke="#ff0000" stroke-width="3.8" stroke-linejoin="round" stroke-linecap="round"/>
<path d="M145.74 2065.75L153.84 2079.78H137.64ZM156.97 1743.82L165.07 1757.85H148.87ZM168.2 1804.92L176.3 1818.95H160.1ZM179.44 1906.15L187.54 1920.18H171.34ZM190.68 1947.19L198.78 1961.22H182.58ZM201.91 2000.09L210.01 2014.12H193.81ZM213.14 2034.75L221.24 2048.78H205.04ZM224.38 2046.6L232.48 2060.63H216.28ZM235.62 2062.11L243.72 2076.14H227.52ZM246.85 2085.82L254.95 2099.85H238.75ZM258.08 2101.32L266.19 2115.35H249.98ZM269.32 2115L277.42 2129.03H261.22ZM280.56 2088.55L288.66 2102.58H272.45ZM291.79 2140.08L299.89 2154.11H283.69ZM303.02 2166.44L311.12 2180.47H294.92ZM314.26 2174.37L322.36 2188.4H306.16ZM325.5 2187.51L333.6 2201.54H317.39ZM336.73 2187.51L344.83 2201.54H328.63ZM347.96 2188.87L356.06 2202.9H339.86ZM359.2 2195.26L367.3 2209.29H351.1ZM370.44 2198.91L378.54 2212.94H362.33ZM381.67 2199.82L389.77 2213.85H373.57ZM392.9 2197.99L401 2212.02H384.8ZM404.14 2199.36L412.24 2213.39H396.04ZM415.38 2199.82L423.48 2213.85H407.27ZM426.61 2200.73L434.71 2214.76H418.51ZM437.84 2201.64L445.94 2215.67H429.74ZM449.08 2199.82L457.18 2213.85H440.98ZM460.31 2200.73L468.42 2214.76H452.21ZM471.55 2202.55L479.65 2216.58H463.45ZM482.78 2200.73L490.88 2214.76H474.68ZM494.02 2198.91L502.12 2212.94H485.92ZM505.25 2187.05L513.36 2201.08H497.15ZM516.49 2192.52L524.59 2206.55H508.39ZM527.72 2189.79L535.82 2203.82H519.62ZM538.96 2195.26L547.06 2209.29H530.86ZM550.19 2197.08L558.29 2211.11H542.09ZM561.43 2199.36L569.53 2213.39H553.33ZM572.66 2200.73L580.76 2214.76H564.56ZM583.9 2199.82L592 2213.85H575.8ZM595.13 2194.35L603.24 2208.38H587.03ZM606.37 2196.17L614.47 2210.2H598.27ZM617.61 2195.26L625.71 2209.29H609.5ZM628.84 2189.79L636.94 2203.82H620.74ZM640.08 2195.26L648.18 2209.29H631.98ZM651.31 2189.79L659.41 2203.82H643.21ZM662.54 2186.14L670.64 2200.17H654.44ZM673.78 2186.14L681.88 2200.17H665.68ZM685.01 2183.4L693.12 2197.43H676.91ZM696.25 2181.58L704.35 2195.61H688.15ZM707.49 2185.23L715.59 2199.26H699.38ZM718.72 2189.79L726.82 2203.82H710.62ZM729.95 2183.4L738.05 2197.43H721.85ZM741.19 2184.31L749.29 2198.34H733.09ZM752.42 2167.9L760.52 2181.93H744.32ZM763.66 2172.46L771.76 2186.49H755.56ZM774.89 2170.63L783 2184.66H766.79ZM786.13 2168.81L794.23 2182.84H778.03ZM797.37 2164.71L805.47 2178.74H789.26ZM808.6 2161.51L816.7 2175.54H800.5ZM819.83 2152.39L827.93 2166.42H811.73ZM831.07 2176.11L839.17 2190.14H822.97ZM842.3 2156.5L850.4 2170.53H834.2ZM853.54 2077.61L861.64 2091.64H845.44ZM864.77 2143.27L872.88 2157.3H856.67ZM876.01 2162.43L884.11 2176.46H867.91ZM887.25 2161.51L895.35 2175.54H879.14ZM898.48 2166.99L906.58 2181.02H890.38ZM909.71 2168.81L917.81 2182.84H901.61ZM920.95 2178.84L929.05 2192.87H912.85ZM932.18 2183.4L940.28 2197.43H924.08ZM943.42 2183.4L951.52 2197.43H935.32ZM954.65 2183.4L962.75 2197.43H946.55ZM965.89 2186.14L973.99 2200.17H957.79ZM977.12 2181.58L985.23 2195.61H969.02ZM988.36 2178.84L996.46 2192.87H980.26ZM999.59 2136.34L1007.69 2150.37H991.49ZM1010.83 2174.28L1018.93 2188.31H1002.73ZM1022.06 2157.87L1030.16 2171.9H1013.96ZM1033.3 2194.53L1041.4 2208.56H1025.2ZM1044.53 2193.43L1052.63 2207.46H1036.43ZM1055.77 2193.43L1063.87 2207.46H1047.67ZM1067.01 2192.52L1075.11 2206.55H1058.91ZM1078.24 2192.52L1086.34 2206.55H1070.14ZM1089.47 2189.79L1097.57 2203.82H1081.38ZM1100.71 2188.87L1108.81 2202.9H1092.61ZM1111.94 2192.52L1120.04 2206.55H1103.85ZM1123.18 2188.87L1131.28 2202.9H1115.08ZM1134.41 2185.23L1142.51 2199.26H1126.32ZM1145.65 2177.02L1153.75 2191.05H1137.55ZM1156.88 2142.36L1164.98 2156.39H1148.79ZM1168.12 2183.4L1176.22 2197.43H1160.02ZM1179.36 2180.67L1187.45 2194.7H1171.26ZM1190.59 2181.58L1198.69 2195.61H1182.49ZM1201.83 2180.67L1209.92 2194.7H1193.73ZM1213.06 2174.28L1221.16 2188.31H1204.96ZM1224.29 2166.07L1232.39 2180.1H1216.19ZM1235.53 2183.4L1243.63 2197.43H1227.43ZM1246.76 2175.19L1254.86 2189.22H1238.66ZM1258 2185.23L1266.1 2199.26H1249.9ZM1269.23 2150.57L1277.33 2164.6H1261.13ZM1280.47 2146.92L1288.57 2160.95H1272.37ZM1291.7 2060.28L1299.8 2074.31H1283.61ZM1302.94 2122.3L1311.04 2136.33H1294.84ZM1314.17 2128.68L1322.27 2142.71H1306.08ZM1325.41 2110.9L1333.51 2124.93H1317.31ZM1336.64 2055.72L1344.74 2069.75H1328.55ZM1347.88 2032.01L1355.98 2046.04H1339.78ZM1359.12 2046.15L1367.21 2060.18H1351.02ZM1370.35 1959.05L1378.45 1973.08H1362.25ZM1381.59 1869.67L1389.68 1883.7H1373.49ZM1392.82 1773L1400.92 1787.03H1384.72ZM1404.05 1840.49L1412.15 1854.52H1395.95ZM1415.29 1831.37L1423.39 1845.4H1407.19ZM1426.52 1645.32L1434.62 1659.35H1418.42ZM1437.76 1913.45L1445.86 1927.48H1429.66ZM1448.99 1973.64L1457.09 1987.67H1440.89ZM1460.23 2004.65L1468.33 2018.68H1452.13ZM1471.46 2098.59L1479.56 2112.62H1463.37ZM1482.7 2116.19L1490.8 2130.22H1474.6ZM1493.93 2115L1502.03 2129.03H1485.84ZM1505.17 2102.23L1513.27 2116.26H1497.07ZM1516.4 2098.59L1524.5 2112.62H1508.31ZM1527.64 2102.23L1535.74 2116.26H1519.54ZM1538.88 2104.06L1546.97 2118.09H1530.78ZM1550.11 2100.41L1558.21 2114.44H1542.01ZM1561.35 2097.22L1569.44 2111.25H1553.25ZM1572.58 2104.06L1580.68 2118.09H1564.48ZM1583.81 2104.97L1591.91 2119H1575.71ZM1595.05 2108.62L1603.15 2122.65H1586.95ZM1606.28 2120.93L1614.38 2134.96H1598.18ZM1617.52 2127.77L1625.62 2141.8H1609.42ZM1628.75 2116.19L1636.85 2130.22H1620.65ZM1639.99 2126.86L1648.09 2140.89H1631.89ZM1651.22 2120.93L1659.32 2134.96H1643.12ZM1662.46 2144.55L1670.56 2158.58H1654.36ZM1673.69 2154.22L1681.79 2168.25H1665.6ZM1684.93 2146.01L1693.03 2160.04H1676.83ZM1696.16 2143.27L1704.26 2157.3H1688.07ZM1707.4 2144.19L1715.5 2158.22H1699.3ZM1718.63 2150.57L1726.73 2164.6H1710.54ZM1729.87 2154.22L1737.97 2168.25H1721.77ZM1741.11 2142.36L1749.2 2156.39H1733.01ZM1752.34 2143.27L1760.44 2157.3H1744.24ZM1763.57 2140.54L1771.67 2154.57H1755.47ZM1774.81 2116.19L1782.91 2130.22H1766.71ZM1786.04 2105.88L1794.14 2119.91H1777.94ZM1797.28 2098.59L1805.38 2112.62H1789.18ZM1808.51 2135.07L1816.61 2149.1H1800.41ZM1819.75 2026.54L1827.85 2040.57H1811.65ZM1830.98 2038.39L1839.08 2052.42H1822.88ZM1842.22 2148.75L1850.32 2162.78H1834.12ZM1853.45 2162.43L1861.55 2176.46H1845.36ZM1864.69 2100.87L1872.79 2114.9H1856.59ZM1875.92 1975.47L1884.02 1989.5H1867.83ZM1887.16 2127.77L1895.26 2141.8H1879.06ZM1898.39 2052.99L1906.49 2067.02H1890.3ZM1909.63 2084.91L1917.73 2098.94H1901.53ZM1920.87 2122.3L1928.96 2136.33H1912.77ZM1932.1 2130.05L1940.2 2144.08H1924ZM1943.33 2147.83L1951.43 2161.86H1935.23ZM1954.57 2139.35L1962.67 2153.38H1946.47ZM1965.8 2106.79L1973.9 2120.82H1957.7ZM2100.62 2006.47L2108.72 2020.5H2092.53ZM2111.86 2006.47L2119.96 2020.5H2103.76ZM2123.09 2080.35L2131.19 2094.38H2114.99ZM2134.33 2065.75L2142.43 2079.78H2126.23ZM2145.56 2052.07L2153.66 2066.1H2137.46ZM2156.8 2072.14L2164.9 2086.17H2148.7ZM2168.03 2072.14L2176.13 2086.17H2159.93ZM2179.27 2070.31L2187.37 2084.34H2171.17ZM2190.51 2068.49L2198.61 2082.52H2182.41ZM2201.74 2051.16L2209.84 2065.19H2193.64ZM2212.97 2028.36L2221.07 2042.39H2204.88ZM2224.21 1962.7L2232.31 1976.73H2216.11ZM2235.44 1925.31L2243.54 1939.34H2227.34ZM2246.68 1969.08L2254.78 1983.11H2238.58ZM2257.91 1970.91L2266.01 1984.94H2249.82ZM2269.15 1971.82L2277.25 1985.85H2261.05ZM2280.38 1946.28L2288.48 1960.31H2272.28ZM2291.62 1967.26L2299.72 1981.29H2283.52ZM2302.86 1979.11L2310.95 1993.14H2294.76ZM2314.09 1962.7L2322.19 1976.73H2305.99ZM2325.32 1930.78L2333.42 1944.81H2317.22ZM2336.56 1945.37L2344.66 1959.4H2328.46ZM2347.8 1969.99L2355.89 1984.02H2339.7ZM2359.03 1988.23L2367.13 2002.26H2350.93ZM2370.26 2017.42L2378.36 2031.45H2362.16ZM2381.5 2029.27L2389.6 2043.3H2373.4Z" fill="none" stroke="#ff0000" stroke-width="3.6" stroke-linejoin="miter"/>
<polyline clip-path="url(#cb)" points="145.74,2089.7 156.97,2105.2 168.2,2107.94 179.44,2123.81 190.68,2094.26 201.91,2128 213.14,2139.86 224.38,2137.12 235.62,2141.68 246.85,2153.54 258.08,2164.48 269.32,2179.08 280.56,2166.31 291.79,2191.84 303.02,2200.96 314.26,2206.44 325.5,2208.26 336.73,2210.08 347.96,2215.56 359.2,2216.47 370.44,2213.78 381.67,2213.78 392.9,2212.08 404.14,2212.08 415.38,2212.08 426.61,2212.08 437.84,2213.78 449.08,2212.08 460.31,2212.08 471.55,2215.47 482.78,2215.47 494.02,2215.05 505.25,2211.23 516.49,2212.93 527.72,2213.78 538.96,2215.05 550.19,2215.47 561.43,2215.9 572.66,2215.9 583.9,2213.78 595.13,2211.23 606.37,2212.08 617.61,2212.08 628.84,2212.08 640.08,2210.38 651.31,2209.54 662.54,2205.47 673.78,2205.3 685.01,2204.45 696.25,2203.6 707.49,2202.75 718.72,2204.87 729.95,2202.75 741.19,2203.6 752.42,2202.75 763.66,2202.75 774.89,2198.85 786.13,2196.81 797.37,2196.81 808.6,2190.03 819.83,2183.24 831.07,2203.26 842.3,2190.03 853.54,2153.54 864.77,2187.48 876.01,2195.12 887.25,2195.97 898.48,2198.51 909.71,2200.21 920.95,2201.06 932.18,2205.3 943.42,2205.3 954.65,2204.45 965.89,2203.6 977.12,2205.3 988.36,2203.6 999.59,2198.51 1010.83,2204.45 1022.06,2202.75 1033.3,2209.54 1044.53,2210.38 1055.77,2210.38 1067.01,2210.38 1078.24,2210.38 1089.47,2209.54 1100.71,2209.54 1111.94,2210.38 1123.18,2209.54 1134.41,2209.54 1145.65,2201.9 1156.88,2185.46 1168.12,2191.73 1179.36,2196.81 1190.59,2196.81 1201.83,2196.81 1213.06,2196.81 1224.29,2196.81 1235.53,2196.81 1246.76,2196.81 1258,2198.51 1269.23,2192.76 1280.47,2180.9 1291.7,2163.57 1302.94,2182.72 1314.17,2189.11 1325.41,2153.54 1336.64,2107.94 1347.88,2148.98 1359.12,2144.42 1370.35,2117.06 1381.59,2080.58 1392.82,2048.66 1404.05,2076.02 1415.29,2075.11 1426.52,2002.15 1437.76,2098.82 1448.99,2121.62 1460.23,2135.3 1471.46,2162.66 1482.7,2171.78 1493.93,2171.78 1505.17,2171.78 1516.4,2171.78 1527.64,2170.87 1538.88,2169.96 1550.11,2164.48 1561.35,2160.84 1572.58,2167.22 1583.81,2167.22 1595.05,2168.13 1606.28,2173.6 1617.52,2176.34 1628.75,2175.43 1639.99,2179.99 1651.22,2179.08 1662.46,2184.73 1673.69,2185.92 1684.93,2176.34 1696.16,2174.52 1707.4,2173.6 1718.63,2180.9 1729.87,2179.99 1741.11,2169.32 1752.34,2169.32 1763.57,2168.13 1774.81,2157.46 1786.04,2150.44 1797.28,2148.98 1808.51,2164.48 1819.75,2117.06 1830.98,1956.09 1842.22,1949.25 1853.45,1951.08 1864.69,1957.46 1875.92,1917.33 1887.16,1889.06 1898.39,1879.94 1909.63,1895.44 1920.87,1915.51 1932.1,1926.45 1943.33,1964.76 1954.57,1995.76 1965.8,1984.82 1977.04,1858.96 1988.27,1672.92 1999.51,1641 2010.74,1634.61 2021.98,1596.31 2033.21,1568.04 2044.45,1591.75 2055.68,1546.15 2066.92,1465.89 2078.15,1389.28 2089.39,1305.38 2100.62,1418.47 2111.86,1396.58 2123.09,1378.34 2134.33,1300.82 2145.56,1241.54 2156.8,1259.78 2168.03,1312.68 2179.27,1365.57 2190.51,1387.46 2201.74,1378.34 2212.97,1355.54 2224.21,1223.3 2235.44,1177.7 2246.68,1177.7 2257.91,1177.7 2269.15,1177.7 2280.38,1177.7 2291.62,1177.7 2302.86,1177.7 2314.09,1177.7 2325.32,1177.7 2336.56,1177.7 2347.8,1177.7 2359.03,1259.78 2370.26,1377.43 2381.5,1463.16" fill="none" stroke="#00ff00" stroke-width="3.8" stroke-linejoin="round" stroke-linecap="round"/>
<path d="M137.74 2089.7h16M145.74 2081.7v16M140.08 2084.04l11.32 11.32M140.08 2095.36l11.32 -11.32M148.97 2105.2h16M156.97 2097.2v16M151.31 2099.54l11.32 11.32M151.31 2110.86l11.32 -11.32M160.2 2107.94h16M168.2 2099.94v16M162.54 2102.28l11.32 11.32M162.54 2113.6l11.32 -11.32M171.44 2123.81h16M179.44 2115.81v16M173.78 2118.15l11.32 11.32M173.78 2129.47l11.32 -11.32M182.68 2094.26h16M190.68 2086.26v16M185.02 2088.6l11.32 11.32M185.02 2099.92l11.32 -11.32M193.91 2128h16M201.91 2120v16M196.25 2122.34l11.32 11.32M196.25 2133.66l11.32 -11.32M205.14 2139.86h16M213.14 2131.86v16M207.48 2134.2l11.32 11.32M207.48 2145.52l11.32 -11.32M216.38 2137.12h16M224.38 2129.12v16M218.72 2131.46l11.32 11.32M218.72 2142.78l11.32 -11.32M227.62 2141.68h16M235.62 2133.68v16M229.96 2136.02l11.32 11.32M229.96 2147.34l11.32 -11.32M238.85 2153.54h16M246.85 2145.54v16M241.19 2147.88l11.32 11.32M241.19 2159.2l11.32 -11.32M250.08 2164.48h16M258.08 2156.48v16M252.42 2158.82l11.32 11.32M252.42 2170.14l11.32 -11.32M261.32 2179.08h16M269.32 2171.08v16M263.66 2173.42l11.32 11.32M263.66 2184.74l11.32 -11.32M272.56 2166.31h16M280.56 2158.31v16M274.89 2160.65l11.32 11.32M274.89 2171.97l11.32 -11.32M283.79 2191.84h16M291.79 2183.84v16M286.13 2186.18l11.32 11.32M286.13 2197.5l11.32 -11.32M295.02 2200.96h16M303.02 2192.96v16M297.36 2195.3l11.32 11.32M297.36 2206.62l11.32 -11.32M306.26 2206.44h16M314.26 2198.44v16M308.6 2200.78l11.32 11.32M308.6 2212.1l11.32 -11.32M317.5 2208.26h16M325.5 2200.26v16M319.83 2202.6l11.32 11.32M319.83 2213.92l11.32 -11.32M328.73 2210.08h16M336.73 2202.08v16M331.07 2204.42l11.32 11.32M331.07 2215.74l11.32 -11.32M339.96 2215.56h16M347.96 2207.56v16M342.3 2209.9l11.32 11.32M342.3 2221.22l11.32 -11.32M351.2 2216.47h16M359.2 2208.47v16M353.54 2210.81l11.32 11.32M353.54 2222.13l11.32 -11.32M362.44 2213.78h16M370.44 2205.78v16M364.77 2208.12l11.32 11.32M364.77 2219.44l11.32 -11.32M373.67 2213.78h16M381.67 2205.78v16M376.01 2208.12l11.32 11.32M376.01 2219.44l11.32 -11.32M384.9 2212.08h16M392.9 2204.08v16M387.24 2206.42l11.32 11.32M387.24 2217.74l11.32 -11.32M396.14 2212.08h16M404.14 2204.08v16M398.48 2206.42l11.32 11.32M398.48 2217.74l11.32 -11.32M407.38 2212.08h16M415.38 2204.08v16M409.71 2206.42l11.32 11.32M409.71 2217.74l11.32 -11.32M418.61 2212.08h16M426.61 2204.08v16M420.95 2206.42l11.32 11.32M420.95 2217.74l11.32 -11.32M429.84 2213.78h16M437.84 2205.78v16M432.18 2208.12l11.32 11.32M432.18 2219.44l11.32 -11.32M441.08 2212.08h16M449.08 2204.08v16M443.42 2206.42l11.32 11.32M443.42 2217.74l11.32 -11.32M452.31 2212.08h16M460.31 2204.08v16M454.65 2206.42l11.32 11.32M454.65 2217.74l11.32 -11.32M463.55 2215.47h16M471.55 2207.47v16M465.89 2209.81l11.32 11.32M465.89 2221.13l11.32 -11.32M474.78 2215.47h16M482.78 2207.47v16M477.12 2209.81l11.32 11.32M477.12 2221.13l11.32 -11.32M486.02 2215.05h16M494.02 2207.05v16M488.36 2209.39l11.32 11.32M488.36 2220.71l11.32 -11.32M497.25 2211.23h16M505.25 2203.23v16M499.59 2205.57l11.32 11.32M499.59 2216.89l11.32 -11.32M508.49 2212.93h16M516.49 2204.93v16M510.83 2207.27l11.32 11.32M510.83 2218.59l11.32 -11.32M519.72 2213.78h16M527.72 2205.78v16M522.06 2208.12l11.32 11.32M522.06 2219.44l11.32 -11.32M530.96 2215.05h16M538.96 2207.05v16M533.3 2209.39l11.32 11.32M533.3 2220.71l11.32 -11.32M542.19 2215.47h16M550.19 2207.47v16M544.53 2209.81l11.32 11.32M544.53 2221.13l11.32 -11.32M553.43 2215.9h16M561.43 2207.9v16M555.77 2210.24l11.32 11.32M555.77 2221.56l11.32 -11.32M564.66 2215.9h16M572.66 2207.9v16M567 2210.24l11.32 11.32M567 2221.56l11.32 -11.32M575.9 2213.78h16M583.9 2205.78v16M578.24 2208.12l11.32 11.32M578.24 2219.44l11.32 -11.32M587.13 2211.23h16M595.13 2203.23v16M589.48 2205.57l11.32 11.32M589.48 2216.89l11.32 -11.32M598.37 2212.08h16M606.37 2204.08v16M600.71 2206.42l11.32 11.32M600.71 2217.74l11.32 -11.32M609.61 2212.08h16M617.61 2204.08v16M611.95 2206.42l11.32 11.32M611.95 2217.74l11.32 -11.32M620.84 2212.08h16M628.84 2204.08v16M623.18 2206.42l11.32 11.32M623.18 2217.74l11.32 -11.32M632.08 2210.38h16M640.08 2202.38v16M634.42 2204.72l11.32 11.32M634.42 2216.04l11.32 -11.32M643.31 2209.54h16M651.31 2201.54v16M645.65 2203.88l11.32 11.32M645.65 2215.2l11.32 -11.32M654.54 2205.47h16M662.54 2197.47v16M656.88 2199.81l11.32 11.32M656.88 2211.13l11.32 -11.32M665.78 2205.3h16M673.78 2197.3v16M668.12 2199.64l11.32 11.32M668.12 2210.96l11.32 -11.32M677.01 2204.45h16M685.01 2196.45v16M679.36 2198.79l11.32 11.32M679.36 2210.11l11.32 -11.32M688.25 2203.6h16M696.25 2195.6v16M690.59 2197.94l11.32 11.32M690.59 2209.26l11.32 -11.32M699.49 2202.75h16M707.49 2194.75v16M701.83 2197.09l11.32 11.32M701.83 2208.41l11.32 -11.32M710.72 2204.87h16M718.72 2196.87v16M713.06 2199.21l11.32 11.32M713.06 2210.53l11.32 -11.32M721.95 2202.75h16M729.95 2194.75v16M724.29 2197.09l11.32 11.32M724.29 2208.41l11.32 -11.32M733.19 2203.6h16M741.19 2195.6v16M735.53 2197.94l11.32 11.32M735.53 2209.26l11.32 -11.32M744.42 2202.75h16M752.42 2194.75v16M746.76 2197.09l11.32 11.32M746.76 2208.41l11.32 -11.32M755.66 2202.75h16M763.66 2194.75v16M758 2197.09l11.32 11.32M758 2208.41l11.32 -11.32M766.89 2198.85h16M774.89 2190.85v16M769.24 2193.19l11.32 11.32M769.24 2204.51l11.32 -11.32M778.13 2196.81h16M786.13 2188.81v16M780.47 2191.15l11.32 11.32M780.47 2202.47l11.32 -11.32M789.37 2196.81h16M797.37 2188.81v16M791.71 2191.15l11.32 11.32M791.71 2202.47l11.32 -11.32M800.6 2190.03h16M808.6 2182.03v16M802.94 2184.37l11.32 11.32M802.94 2195.69l11.32 -11.32M811.83 2183.24h16M819.83 2175.24v16M814.17 2177.58l11.32 11.32M814.17 2188.9l11.32 -11.32M823.07 2203.26h16M831.07 2195.26v16M825.41 2197.6l11.32 11.32M825.41 2208.92l11.32 -11.32M834.3 2190.03h16M842.3 2182.03v16M836.64 2184.37l11.32 11.32M836.64 2195.69l11.32 -11.32M845.54 2153.54h16M853.54 2145.54v16M847.88 2147.88l11.32 11.32M847.88 2159.2l11.32 -11.32M856.77 2187.48h16M864.77 2179.48v16M859.12 2181.82l11.32 11.32M859.12 2193.14l11.32 -11.32M868.01 2195.12h16M876.01 2187.12v16M870.35 2189.46l11.32 11.32M870.35 2200.78l11.32 -11.32M879.25 2195.97h16M887.25 2187.97v16M881.59 2190.31l11.32 11.32M881.59 2201.63l11.32 -11.32M890.48 2198.51h16M898.48 2190.51v16M892.82 2192.85l11.32 11.32M892.82 2204.17l11.32 -11.32M901.71 2200.21h16M909.71 2192.21v16M904.05 2194.55l11.32 11.32M904.05 2205.87l11.32 -11.32M912.95 2201.06h16M920.95 2193.06v16M915.29 2195.4l11.32 11.32M915.29 2206.72l11.32 -11.32M924.18 2205.3h16M932.18 2197.3v16M926.52 2199.64l11.32 11.32M926.52 2210.96l11.32 -11.32M935.42 2205.3h16M943.42 2197.3v16M937.76 2199.64l11.32 11.32M937.76 2210.96l11.32 -11.32M946.65 2204.45h16M954.65 2196.45v16M949 2198.79l11.32 11.32M949 2210.11l11.32 -11.32M957.89 2203.6h16M965.89 2195.6v16M960.23 2197.94l11.32 11.32M960.23 2209.26l11.32 -11.32M969.12 2205.3h16M977.12 2197.3v16M971.47 2199.64l11.32 11.32M971.47 2210.96l11.32 -11.32M980.36 2203.6h16M988.36 2195.6v16M982.7 2197.94l11.32 11.32M982.7 2209.26l11.32 -11.32M991.59 2198.51h16M999.59 2190.51v16M993.93 2192.85l11.32 11.32M993.93 2204.17l11.32 -11.32M1002.83 2204.45h16M1010.83 2196.45v16M1005.17 2198.79l11.32 11.32M1005.17 2210.11l11.32 -11.32M1014.06 2202.75h16M1022.06 2194.75v16M1016.4 2197.09l11.32 11.32M1016.4 2208.41l11.32 -11.32M1025.3 2209.54h16M1033.3 2201.54v16M1027.64 2203.88l11.32 11.32M1027.64 2215.2l11.32 -11.32M1036.53 2210.38h16M1044.53 2202.38v16M1038.87 2204.72l11.32 11.32M1038.87 2216.04l11.32 -11.32M1047.77 2210.38h16M1055.77 2202.38v16M1050.11 2204.72l11.32 11.32M1050.11 2216.04l11.32 -11.32M1059.01 2210.38h16M1067.01 2202.38v16M1061.35 2204.72l11.32 11.32M1061.35 2216.04l11.32 -11.32M1070.24 2210.38h16M1078.24 2202.38v16M1072.58 2204.72l11.32 11.32M1072.58 2216.04l11.32 -11.32M1081.47 2209.54h16M1089.47 2201.54v16M1083.81 2203.88l11.32 11.32M1083.81 2215.2l11.32 -11.32M1092.71 2209.54h16M1100.71 2201.54v16M1095.05 2203.88l11.32 11.32M1095.05 2215.2l11.32 -11.32M1103.94 2210.38h16M1111.94 2202.38v16M1106.28 2204.72l11.32 11.32M1106.28 2216.04l11.32 -11.32M1115.18 2209.54h16M1123.18 2201.54v16M1117.52 2203.88l11.32 11.32M1117.52 2215.2l11.32 -11.32M1126.41 2209.54h16M1134.41 2201.54v16M1128.75 2203.88l11.32 11.32M1128.75 2215.2l11.32 -11.32M1137.65 2201.9h16M1145.65 2193.9v16M1139.99 2196.24l11.32 11.32M1139.99 2207.56l11.32 -11.32M1148.88 2185.46h16M1156.88 2177.46v16M1151.22 2179.8l11.32 11.32M1151.22 2191.12l11.32 -11.32M1160.12 2191.73h16M1168.12 2183.73v16M1162.46 2186.07l11.32 11.32M1162.46 2197.39l11.32 -11.32M1171.36 2196.81h16M1179.36 2188.81v16M1173.69 2191.15l11.32 11.32M1173.69 2202.47l11.32 -11.32M1182.59 2196.81h16M1190.59 2188.81v16M1184.93 2191.15l11.32 11.32M1184.93 2202.47l11.32 -11.32M1193.83 2196.81h16M1201.83 2188.81v16M1196.16 2191.15l11.32 11.32M1196.16 2202.47l11.32 -11.32M1205.06 2196.81h16M1213.06 2188.81v16M1207.4 2191.15l11.32 11.32M1207.4 2202.47l11.32 -11.32M1216.29 2196.81h16M1224.29 2188.81v16M1218.63 2191.15l11.32 11.32M1218.63 2202.47l11.32 -11.32M1227.53 2196.81h16M1235.53 2188.81v16M1229.87 2191.15l11.32 11.32M1229.87 2202.47l11.32 -11.32M1238.76 2196.81h16M1246.76 2188.81v16M1241.1 2191.15l11.32 11.32M1241.1 2202.47l11.32 -11.32M1250 2198.51h16M1258 2190.51v16M1252.34 2192.85l11.32 11.32M1252.34 2204.17l11.32 -11.32M1261.23 2192.76h16M1269.23 2184.76v16M1263.57 2187.1l11.32 11.32M1263.57 2198.42l11.32 -11.32M1272.47 2180.9h16M1280.47 2172.9v16M1274.81 2175.24l11.32 11.32M1274.81 2186.56l11.32 -11.32M1283.7 2163.57h16M1291.7 2155.57v16M1286.04 2157.91l11.32 11.32M1286.04 2169.23l11.32 -11.32M1294.94 2182.72h16M1302.94 2174.72v16M1297.28 2177.06l11.32 11.32M1297.28 2188.38l11.32 -11.32M1306.17 2189.11h16M1314.17 2181.11v16M1308.51 2183.45l11.32 11.32M1308.51 2194.77l11.32 -11.32M1317.41 2153.54h16M1325.41 2145.54v16M1319.75 2147.88l11.32 11.32M1319.75 2159.2l11.32 -11.32M1328.64 2107.94h16M1336.64 2099.94v16M1330.98 2102.28l11.32 11.32M1330.98 2113.6l11.32 -11.32M1339.88 2148.98h16M1347.88 2140.98v16M1342.22 2143.32l11.32 11.32M1342.22 2154.64l11.32 -11.32M1351.12 2144.42h16M1359.12 2136.42v16M1353.45 2138.76l11.32 11.32M1353.45 2150.08l11.32 -11.32M1362.35 2117.06h16M1370.35 2109.06v16M1364.69 2111.4l11.32 11.32M1364.69 2122.72l11.32 -11.32M1373.59 2080.58h16M1381.59 2072.58v16M1375.92 2074.92l11.32 11.32M1375.92 2086.24l11.32 -11.32M1384.82 2048.66h16M1392.82 2040.66v16M1387.16 2043l11.32 11.32M1387.16 2054.32l11.32 -11.32M1396.05 2076.02h16M1404.05 2068.02v16M1398.39 2070.36l11.32 11.32M1398.39 2081.68l11.32 -11.32M1407.29 2075.11h16M1415.29 2067.11v16M1409.63 2069.45l11.32 11.32M1409.63 2080.77l11.32 -11.32M1418.52 2002.15h16M1426.52 1994.15v16M1420.86 1996.49l11.32 11.32M1420.86 2007.81l11.32 -11.32M1429.76 2098.82h16M1437.76 2090.82v16M1432.1 2093.16l11.32 11.32M1432.1 2104.48l11.32 -11.32M1440.99 2121.62h16M1448.99 2113.62v16M1443.33 2115.96l11.32 11.32M1443.33 2127.28l11.32 -11.32M1452.23 2135.3h16M1460.23 2127.3v16M1454.57 2129.64l11.32 11.32M1454.57 2140.96l11.32 -11.32M1463.46 2162.66h16M1471.46 2154.66v16M1465.8 2157l11.32 11.32M1465.8 2168.32l11.32 -11.32M1474.7 2171.78h16M1482.7 2163.78v16M1477.04 2166.12l11.32 11.32M1477.04 2177.44l11.32 -11.32M1485.93 2171.78h16M1493.93 2163.78v16M1488.27 2166.12l11.32 11.32M1488.27 2177.44l11.32 -11.32M1497.17 2171.78h16M1505.17 2163.78v16M1499.51 2166.12l11.32 11.32M1499.51 2177.44l11.32 -11.32M1508.4 2171.78h16M1516.4 2163.78v16M1510.74 2166.12l11.32 11.32M1510.74 2177.44l11.32 -11.32M1519.64 2170.87h16M1527.64 2162.87v16M1521.98 2165.21l11.32 11.32M1521.98 2176.53l11.32 -11.32M1530.88 2169.96h16M1538.88 2161.96v16M1533.21 2164.3l11.32 11.32M1533.21 2175.62l11.32 -11.32M1542.11 2164.48h16M1550.11 2156.48v16M1544.45 2158.82l11.32 11.32M1544.45 2170.14l11.32 -11.32M1553.35 2160.84h16M1561.35 2152.84v16M1555.68 2155.18l11.32 11.32M1555.68 2166.5l11.32 -11.32M1564.58 2167.22h16M1572.58 2159.22v16M1566.92 2161.56l11.32 11.32M1566.92 2172.88l11.32 -11.32M1575.81 2167.22h16M1583.81 2159.22v16M1578.15 2161.56l11.32 11.32M1578.15 2172.88l11.32 -11.32M1587.05 2168.13h16M1595.05 2160.13v16M1589.39 2162.47l11.32 11.32M1589.39 2173.79l11.32 -11.32M1598.28 2173.6h16M1606.28 2165.6v16M1600.62 2167.94l11.32 11.32M1600.62 2179.26l11.32 -11.32M1609.52 2176.34h16M1617.52 2168.34v16M1611.86 2170.68l11.32 11.32M1611.86 2182l11.32 -11.32M1620.75 2175.43h16M1628.75 2167.43v16M1623.09 2169.77l11.32 11.32M1623.09 2181.09l11.32 -11.32M1631.99 2179.99h16M1639.99 2171.99v16M1634.33 2174.33l11.32 11.32M1634.33 2185.65l11.32 -11.32M1643.22 2179.08h16M1651.22 2171.08v16M1645.56 2173.42l11.32 11.32M1645.56 2184.74l11.32 -11.32M1654.46 2184.73h16M1662.46 2176.73v16M1656.8 2179.07l11.32 11.32M1656.8 2190.39l11.32 -11.32M1665.69 2185.92h16M1673.69 2177.92v16M1668.03 2180.26l11.32 11.32M1668.03 2191.58l11.32 -11.32M1676.93 2176.34h16M1684.93 2168.34v16M1679.27 2170.68l11.32 11.32M1679.27 2182l11.32 -11.32M1688.16 2174.52h16M1696.16 2166.52v16M1690.5 2168.86l11.32 11.32M1690.5 2180.18l11.32 -11.32M1699.4 2173.6h16M1707.4 2165.6v16M1701.74 2167.94l11.32 11.32M1701.74 2179.26l11.32 -11.32M1710.63 2180.9h16M1718.63 2172.9v16M1712.97 2175.24l11.32 11.32M1712.97 2186.56l11.32 -11.32M1721.87 2179.99h16M1729.87 2171.99v16M1724.21 2174.33l11.32 11.32M1724.21 2185.65l11.32 -11.32M1733.11 2169.32h16M1741.11 2161.32v16M1735.44 2163.66l11.32 11.32M1735.44 2174.98l11.32 -11.32M1744.34 2169.32h16M1752.34 2161.32v16M1746.68 2163.66l11.32 11.32M1746.68 2174.98l11.32 -11.32M1755.57 2168.13h16M1763.57 2160.13v16M1757.91 2162.47l11.32 11.32M1757.91 2173.79l11.32 -11.32M1766.81 2157.46h16M1774.81 2149.46v16M1769.15 2151.8l11.32 11.32M1769.15 2163.12l11.32 -11.32M1778.04 2150.44h16M1786.04 2142.44v16M1780.38 2144.78l11.32 11.32M1780.38 2156.1l11.32 -11.32M1789.28 2148.98h16M1797.28 2140.98v16M1791.62 2143.32l11.32 11.32M1791.62 2154.64l11.32 -11.32M1800.51 2164.48h16M1808.51 2156.48v16M1802.85 2158.82l11.32 11.32M1802.85 2170.14l11.32 -11.32M1811.75 2117.06h16M1819.75 2109.06v16M1814.09 2111.4l11.32 11.32M1814.09 2122.72l11.32 -11.32M1822.98 1956.09h16M1830.98 1948.09v16M1825.32 1950.43l11.32 11.32M1825.32 1961.75l11.32 -11.32M1834.22 1949.25h16M1842.22 1941.25v16M1836.56 1943.59l11.32 11.32M1836.56 1954.91l11.32 -11.32M1845.45 1951.08h16M1853.45 1943.08v16M1847.79 1945.42l11.32 11.32M1847.79 1956.74l11.32 -11.32M1856.69 1957.46h16M1864.69 1949.46v16M1859.03 1951.8l11.32 11.32M1859.03 1963.12l11.32 -11.32M1867.92 1917.33h16M1875.92 1909.33v16M1870.26 1911.67l11.32 11.32M1870.26 1922.99l11.32 -11.32M1879.16 1889.06h16M1887.16 1881.06v16M1881.5 1883.4l11.32 11.32M1881.5 1894.72l11.32 -11.32M1890.39 1879.94h16M1898.39 1871.94v16M1892.73 1874.28l11.32 11.32M1892.73 1885.6l11.32 -11.32M1901.63 1895.44h16M1909.63 1887.44v16M1903.97 1889.78l11.32 11.32M1903.97 1901.1l11.32 -11.32M1912.87 1915.51h16M1920.87 1907.51v16M1915.2 1909.85l11.32 11.32M1915.2 1921.17l11.32 -11.32M1924.1 1926.45h16M1932.1 1918.45v16M1926.44 1920.79l11.32 11.32M1926.44 1932.11l11.32 -11.32M1935.33 1964.76h16M1943.33 1956.76v16M1937.67 1959.1l11.32 11.32M1937.67 1970.42l11.32 -11.32M1946.57 1995.76h16M1954.57 1987.76v16M1948.91 1990.1l11.32 11.32M1948.91 2001.42l11.32 -11.32M1957.8 1984.82h16M1965.8 1976.82v16M1960.14 1979.16l11.32 11.32M1960.14 1990.48l11.32 -11.32M1969.04 1858.96h16M1977.04 1850.96v16M1971.38 1853.3l11.32 11.32M1971.38 1864.62l11.32 -11.32M1980.27 1672.92h16M1988.27 1664.92v16M1982.61 1667.26l11.32 11.32M1982.61 1678.58l11.32 -11.32M1991.51 1641h16M1999.51 1633v16M1993.85 1635.34l11.32 11.32M1993.85 1646.66l11.32 -11.32M2002.74 1634.61h16M2010.74 1626.61v16M2005.08 1628.95l11.32 11.32M2005.08 1640.27l11.32 -11.32M2013.98 1596.31h16M2021.98 1588.31v16M2016.32 1590.65l11.32 11.32M2016.32 1601.97l11.32 -11.32M2025.21 1568.04h16M2033.21 1560.04v16M2027.55 1562.38l11.32 11.32M2027.55 1573.7l11.32 -11.32M2036.45 1591.75h16M2044.45 1583.75v16M2038.79 1586.09l11.32 11.32M2038.79 1597.41l11.32 -11.32M2047.68 1546.15h16M2055.68 1538.15v16M2050.03 1540.49l11.32 11.32M2050.03 1551.81l11.32 -11.32M2058.92 1465.89h16M2066.92 1457.89v16M2061.26 1460.23l11.32 11.32M2061.26 1471.55l11.32 -11.32M2070.15 1389.28h16M2078.15 1381.28v16M2072.49 1383.62l11.32 11.32M2072.49 1394.94l11.32 -11.32M2092.62 1418.47h16M2100.62 1410.47v16M2094.97 1412.81l11.32 11.32M2094.97 1424.13l11.32 -11.32M2103.86 1396.58h16M2111.86 1388.58v16M2106.2 1390.92l11.32 11.32M2106.2 1402.24l11.32 -11.32M2115.09 1378.34h16M2123.09 1370.34v16M2117.43 1372.68l11.32 11.32M2117.43 1384l11.32 -11.32M2171.27 1365.57h16M2179.27 1357.57v16M2173.61 1359.91l11.32 11.32M2173.61 1371.23l11.32 -11.32M2182.51 1387.46h16M2190.51 1379.46v16M2184.85 1381.8l11.32 11.32M2184.85 1393.12l11.32 -11.32M2193.74 1378.34h16M2201.74 1370.34v16M2196.08 1372.68l11.32 11.32M2196.08 1384l11.32 -11.32M2204.97 1355.54h16M2212.97 1347.54v16M2207.32 1349.88l11.32 11.32M2207.32 1361.2l11.32 -11.32M2362.26 1377.43h16M2370.26 1369.43v16M2364.61 1371.77l11.32 11.32M2364.61 1383.09l11.32 -11.32M2373.5 1463.16h16M2381.5 1455.16v16M2375.84 1457.5l11.32 11.32M2375.84 1468.82l11.32 -11.32" fill="none" stroke="#00ff00" stroke-width="3.6" stroke-linecap="butt"/>
<polyline clip-path="url(#cb)" points="145.74,2073.74 156.97,2060.52 168.2,2089.7 179.44,2121.16 190.68,2102.74 201.91,2131.65 213.14,2144.88 224.38,2139.86 235.62,2144.42 246.85,2158.1 258.08,2168.13 269.32,2181.81 280.56,2168.13 291.79,2195.04 303.02,2204.61 314.26,2211 325.5,2203.88 336.73,2207.35 347.96,2214.64 359.2,2216.47 370.44,2215.56 381.67,2215.56 392.9,2213.73 404.14,2213.73 415.38,2213.73 426.61,2213.73 437.84,2215.56 449.08,2213.73 460.31,2213.73 471.55,2217.38 482.78,2217.38 494.02,2216.92 505.25,2212.82 516.49,2214.64 527.72,2215.56 538.96,2216.92 550.19,2217.38 561.43,2217.84 572.66,2217.84 583.9,2215.56 595.13,2212.82 606.37,2213.73 617.61,2213.73 628.84,2213.73 640.08,2211.91 651.31,2211 662.54,2206.62 673.78,2206.44 685.01,2205.52 696.25,2204.61 707.49,2203.7 718.72,2205.98 729.95,2203.7 741.19,2204.61 752.42,2203.7 763.66,2203.7 774.89,2199.5 786.13,2197.32 797.37,2197.32 808.6,2190.02 819.83,2182.72 831.07,2204.25 842.3,2190.02 853.54,2161.75 864.77,2187.28 876.01,2195.49 887.25,2196.4 898.48,2199.14 909.71,2200.96 920.95,2201.88 932.18,2206.44 943.42,2206.44 954.65,2205.52 965.89,2204.61 977.12,2206.44 988.36,2204.61 999.59,2199.14 1010.83,2205.52 1022.06,2203.7 1033.3,2211 1044.53,2211.91 1055.77,2211.91 1067.01,2211.91 1078.24,2211.91 1089.47,2211 1100.71,2211 1111.94,2211.91 1123.18,2211 1134.41,2211 1145.65,2188.2 1156.88,2177.25 1168.12,2190.02 1179.36,2190.02 1190.59,2190.02 1201.83,2190.02 1213.06,2190.02 1224.29,2190.02 1235.53,2190.02 1246.76,2190.02 1258,2195.49 1269.23,2180.9 1280.47,2180.9 1291.7,2163.57 1302.94,2180.9 1314.17,2185.46 1325.41,2125.27 1336.64,2112.5 1347.88,2172.69 1359.12,2175.43 1370.35,2175.43 1381.59,2163.57 1392.82,2150.8 1404.05,2160.84 1415.29,2160.84 1426.52,2135.3 1437.76,2169.96 1448.99,2177.25 1460.23,2177.25 1471.46,2186.37 1482.7,2188.74 1493.93,2188.2 1505.17,2187.28 1516.4,2184.55 1527.64,2181.81 1538.88,2174.52 1550.11,2165.4 1561.35,2157.19 1572.58,2164.48 1583.81,2163.12 1595.05,2166.31 1606.28,2173.6 1617.52,2172.69 1628.75,2168.68 1639.99,2168.68 1651.22,2165.4 1662.46,2175.79 1673.69,2174.52 1684.93,2162.66 1696.16,2162.66 1707.4,2162.66 1718.63,2168.68 1729.87,2167.22 1741.11,2162.66 1752.34,2161.75 1763.57,2160.84 1774.81,2158.1 1786.04,2155.36 1797.28,2153.54 1808.51,2160.84 1819.75,2115.24 1830.98,2137.12 1842.22,2146.24 1853.45,2148.98 1864.69,2144.42 1875.92,2141.68 1887.16,2151.72 1898.39,2134.39 1909.63,2139.86 1920.87,2150.8 1932.1,2161.75 1943.33,2156.28 1954.57,2169.04 1965.8,2169.96 1977.04,2171.78 1988.27,2181.81 1999.51,2176.34 2010.74,2176.34 2021.98,2174.52 2033.21,2167.22 2044.45,2166.31 2055.68,2162.66 2066.92,2159.01 2078.15,2150.8 2089.39,2146.24 2100.62,2161.75 2111.86,2162.66 2123.09,2159.01 2134.33,2148.98 2145.56,2130.74 2156.8,2144.42 2168.03,2161.75 2179.27,2162.66 2190.51,2163.57 2201.74,2122.53 2212.97,2139.86 2224.21,2121.62 2235.44,2074.2 2246.68,2113.41 2257.91,2103.38 2269.15,2121.62 2280.38,2079.21 2291.62,2084.23 2302.86,2079.21 2314.09,2076.02 2325.32,2029.05 2336.56,2069.64 2347.8,2132.56 2359.03,2157.19 2370.26,2160.84 2381.5,2166.76" fill="none" stroke="#ff00ff" stroke-width="3.8" stroke-linejoin="round" stroke-linecap="round"/>
<path d="M140.34 2068.34l10.8 10.8M140.34 2079.14l10.8 -10.8M151.57 2055.12l10.8 10.8M151.57 2065.92l10.8 -10.8M162.8 2084.3l10.8 10.8M162.8 2095.1l10.8 -10.8M174.04 2115.76l10.8 10.8M174.04 2126.56l10.8 -10.8M185.28 2097.34l10.8 10.8M185.28 2108.14l10.8 -10.8M196.51 2126.25l10.8 10.8M196.51 2137.05l10.8 -10.8M207.74 2139.48l10.8 10.8M207.74 2150.28l10.8 -10.8M218.98 2134.46l10.8 10.8M218.98 2145.26l10.8 -10.8M230.22 2139.02l10.8 10.8M230.22 2149.82l10.8 -10.8M241.45 2152.7l10.8 10.8M241.45 2163.5l10.8 -10.8M252.68 2162.73l10.8 10.8M252.68 2173.53l10.8 -10.8M263.92 2176.41l10.8 10.8M263.92 2187.21l10.8 -10.8M275.16 2162.73l10.8 10.8M275.16 2173.53l10.8 -10.8M286.39 2189.64l10.8 10.8M286.39 2200.44l10.8 -10.8M297.62 2199.21l10.8 10.8M297.62 2210.01l10.8 -10.8M308.86 2205.6l10.8 10.8M308.86 2216.4l10.8 -10.8M320.1 2198.48l10.8 10.8M320.1 2209.28l10.8 -10.8M331.33 2201.95l10.8 10.8M331.33 2212.75l10.8 -10.8M342.56 2209.24l10.8 10.8M342.56 2220.04l10.8 -10.8M353.8 2211.07l10.8 10.8M353.8 2221.87l10.8 -10.8M365.04 2210.16l10.8 10.8M365.04 2220.96l10.8 -10.8M376.27 2210.16l10.8 10.8M376.27 2220.96l10.8 -10.8M387.5 2208.33l10.8 10.8M387.5 2219.13l10.8 -10.8M398.74 2208.33l10.8 10.8M398.74 2219.13l10.8 -10.8M409.98 2208.33l10.8 10.8M409.98 2219.13l10.8 -10.8M421.21 2208.33l10.8 10.8M421.21 2219.13l10.8 -10.8M432.44 2210.16l10.8 10.8M432.44 2220.96l10.8 -10.8M443.68 2208.33l10.8 10.8M443.68 2219.13l10.8 -10.8M454.92 2208.33l10.8 10.8M454.92 2219.13l10.8 -10.8M466.15 2211.98l10.8 10.8M466.15 2222.78l10.8 -10.8M477.38 2211.98l10.8 10.8M477.38 2222.78l10.8 -10.8M488.62 2211.52l10.8 10.8M488.62 2222.32l10.8 -10.8M499.86 2207.42l10.8 10.8M499.86 2218.22l10.8 -10.8M511.09 2209.24l10.8 10.8M511.09 2220.04l10.8 -10.8M522.32 2210.16l10.8 10.8M522.32 2220.96l10.8 -10.8M533.56 2211.52l10.8 10.8M533.56 2222.32l10.8 -10.8M544.79 2211.98l10.8 10.8M544.79 2222.78l10.8 -10.8M556.03 2212.44l10.8 10.8M556.03 2223.24l10.8 -10.8M567.26 2212.44l10.8 10.8M567.26 2223.24l10.8 -10.8M578.5 2210.16l10.8 10.8M578.5 2220.96l10.8 -10.8M589.74 2207.42l10.8 10.8M589.74 2218.22l10.8 -10.8M600.97 2208.33l10.8 10.8M600.97 2219.13l10.8 -10.8M612.21 2208.33l10.8 10.8M612.21 2219.13l10.8 -10.8M623.44 2208.33l10.8 10.8M623.44 2219.13l10.8 -10.8M634.68 2206.51l10.8 10.8M634.68 2217.31l10.8 -10.8M645.91 2205.6l10.8 10.8M645.91 2216.4l10.8 -10.8M657.14 2201.22l10.8 10.8M657.14 2212.02l10.8 -10.8M668.38 2201.04l10.8 10.8M668.38 2211.84l10.8 -10.8M679.62 2200.12l10.8 10.8M679.62 2210.92l10.8 -10.8M690.85 2199.21l10.8 10.8M690.85 2210.01l10.8 -10.8M702.09 2198.3l10.8 10.8M702.09 2209.1l10.8 -10.8M713.32 2200.58l10.8 10.8M713.32 2211.38l10.8 -10.8M724.55 2198.3l10.8 10.8M724.55 2209.1l10.8 -10.8M735.79 2199.21l10.8 10.8M735.79 2210.01l10.8 -10.8M747.02 2198.3l10.8 10.8M747.02 2209.1l10.8 -10.8M758.26 2198.3l10.8 10.8M758.26 2209.1l10.8 -10.8M769.5 2194.1l10.8 10.8M769.5 2204.9l10.8 -10.8M780.73 2191.92l10.8 10.8M780.73 2202.72l10.8 -10.8M791.97 2191.92l10.8 10.8M791.97 2202.72l10.8 -10.8M803.2 2184.62l10.8 10.8M803.2 2195.42l10.8 -10.8M814.43 2177.32l10.8 10.8M814.43 2188.12l10.8 -10.8M825.67 2198.85l10.8 10.8M825.67 2209.65l10.8 -10.8M836.9 2184.62l10.8 10.8M836.9 2195.42l10.8 -10.8M848.14 2156.35l10.8 10.8M848.14 2167.15l10.8 -10.8M859.38 2181.88l10.8 10.8M859.38 2192.68l10.8 -10.8M870.61 2190.09l10.8 10.8M870.61 2200.89l10.8 -10.8M881.85 2191l10.8 10.8M881.85 2201.8l10.8 -10.8M893.08 2193.74l10.8 10.8M893.08 2204.54l10.8 -10.8M904.31 2195.56l10.8 10.8M904.31 2206.36l10.8 -10.8M915.55 2196.48l10.8 10.8M915.55 2207.28l10.8 -10.8M926.78 2201.04l10.8 10.8M926.78 2211.84l10.8 -10.8M938.02 2201.04l10.8 10.8M938.02 2211.84l10.8 -10.8M949.25 2200.12l10.8 10.8M949.25 2210.92l10.8 -10.8M960.49 2199.21l10.8 10.8M960.49 2210.01l10.8 -10.8M971.73 2201.04l10.8 10.8M971.73 2211.84l10.8 -10.8M982.96 2199.21l10.8 10.8M982.96 2210.01l10.8 -10.8M994.19 2193.74l10.8 10.8M994.19 2204.54l10.8 -10.8M1005.43 2200.12l10.8 10.8M1005.43 2210.92l10.8 -10.8M1016.66 2198.3l10.8 10.8M1016.66 2209.1l10.8 -10.8M1027.9 2205.6l10.8 10.8M1027.9 2216.4l10.8 -10.8M1039.13 2206.51l10.8 10.8M1039.13 2217.31l10.8 -10.8M1050.37 2206.51l10.8 10.8M1050.37 2217.31l10.8 -10.8M1061.61 2206.51l10.8 10.8M1061.61 2217.31l10.8 -10.8M1072.84 2206.51l10.8 10.8M1072.84 2217.31l10.8 -10.8M1084.07 2205.6l10.8 10.8M1084.07 2216.4l10.8 -10.8M1095.31 2205.6l10.8 10.8M1095.31 2216.4l10.8 -10.8M1106.54 2206.51l10.8 10.8M1106.54 2217.31l10.8 -10.8M1117.78 2205.6l10.8 10.8M1117.78 2216.4l10.8 -10.8M1129.01 2205.6l10.8 10.8M1129.01 2216.4l10.8 -10.8M1140.25 2182.8l10.8 10.8M1140.25 2193.6l10.8 -10.8M1151.48 2171.85l10.8 10.8M1151.48 2182.65l10.8 -10.8M1162.72 2184.62l10.8 10.8M1162.72 2195.42l10.8 -10.8M1173.95 2184.62l10.8 10.8M1173.95 2195.42l10.8 -10.8M1185.19 2184.62l10.8 10.8M1185.19 2195.42l10.8 -10.8M1196.42 2184.62l10.8 10.8M1196.42 2195.42l10.8 -10.8M1207.66 2184.62l10.8 10.8M1207.66 2195.42l10.8 -10.8M1218.89 2184.62l10.8 10.8M1218.89 2195.42l10.8 -10.8M1230.13 2184.62l10.8 10.8M1230.13 2195.42l10.8 -10.8M1241.36 2184.62l10.8 10.8M1241.36 2195.42l10.8 -10.8M1252.6 2190.09l10.8 10.8M1252.6 2200.89l10.8 -10.8M1263.83 2175.5l10.8 10.8M1263.83 2186.3l10.8 -10.8M1275.07 2175.5l10.8 10.8M1275.07 2186.3l10.8 -10.8M1286.3 2158.17l10.8 10.8M1286.3 2168.97l10.8 -10.8M1297.54 2175.5l10.8 10.8M1297.54 2186.3l10.8 -10.8M1308.77 2180.06l10.8 10.8M1308.77 2190.86l10.8 -10.8M1320.01 2119.87l10.8 10.8M1320.01 2130.67l10.8 -10.8M1331.24 2107.1l10.8 10.8M1331.24 2117.9l10.8 -10.8M1342.48 2167.29l10.8 10.8M1342.48 2178.09l10.8 -10.8M1353.71 2170.03l10.8 10.8M1353.71 2180.83l10.8 -10.8M1364.95 2170.03l10.8 10.8M1364.95 2180.83l10.8 -10.8M1376.18 2158.17l10.8 10.8M1376.18 2168.97l10.8 -10.8M1387.42 2145.4l10.8 10.8M1387.42 2156.2l10.8 -10.8M1398.65 2155.44l10.8 10.8M1398.65 2166.24l10.8 -10.8M1409.89 2155.44l10.8 10.8M1409.89 2166.24l10.8 -10.8M1421.12 2129.9l10.8 10.8M1421.12 2140.7l10.8 -10.8M1432.36 2164.56l10.8 10.8M1432.36 2175.36l10.8 -10.8M1443.59 2171.85l10.8 10.8M1443.59 2182.65l10.8 -10.8M1454.83 2171.85l10.8 10.8M1454.83 2182.65l10.8 -10.8M1466.06 2180.97l10.8 10.8M1466.06 2191.77l10.8 -10.8M1477.3 2183.34l10.8 10.8M1477.3 2194.14l10.8 -10.8M1488.53 2182.8l10.8 10.8M1488.53 2193.6l10.8 -10.8M1499.77 2181.88l10.8 10.8M1499.77 2192.68l10.8 -10.8M1511 2179.15l10.8 10.8M1511 2189.95l10.8 -10.8M1522.24 2176.41l10.8 10.8M1522.24 2187.21l10.8 -10.8M1533.47 2169.12l10.8 10.8M1533.47 2179.92l10.8 -10.8M1544.71 2160l10.8 10.8M1544.71 2170.8l10.8 -10.8M1555.94 2151.79l10.8 10.8M1555.94 2162.59l10.8 -10.8M1567.18 2159.08l10.8 10.8M1567.18 2169.88l10.8 -10.8M1578.41 2157.72l10.8 10.8M1578.41 2168.52l10.8 -10.8M1589.65 2160.91l10.8 10.8M1589.65 2171.71l10.8 -10.8M1600.88 2168.2l10.8 10.8M1600.88 2179l10.8 -10.8M1612.12 2167.29l10.8 10.8M1612.12 2178.09l10.8 -10.8M1623.35 2163.28l10.8 10.8M1623.35 2174.08l10.8 -10.8M1634.59 2163.28l10.8 10.8M1634.59 2174.08l10.8 -10.8M1645.82 2160l10.8 10.8M1645.82 2170.8l10.8 -10.8M1657.06 2170.39l10.8 10.8M1657.06 2181.19l10.8 -10.8M1668.29 2169.12l10.8 10.8M1668.29 2179.92l10.8 -10.8M1679.53 2157.26l10.8 10.8M1679.53 2168.06l10.8 -10.8M1690.76 2157.26l10.8 10.8M1690.76 2168.06l10.8 -10.8M1702 2157.26l10.8 10.8M1702 2168.06l10.8 -10.8M1713.23 2163.28l10.8 10.8M1713.23 2174.08l10.8 -10.8M1724.47 2161.82l10.8 10.8M1724.47 2172.62l10.8 -10.8M1735.7 2157.26l10.8 10.8M1735.7 2168.06l10.8 -10.8M1746.94 2156.35l10.8 10.8M1746.94 2167.15l10.8 -10.8M1758.17 2155.44l10.8 10.8M1758.17 2166.24l10.8 -10.8M1769.41 2152.7l10.8 10.8M1769.41 2163.5l10.8 -10.8M1780.64 2149.96l10.8 10.8M1780.64 2160.76l10.8 -10.8M1791.88 2148.14l10.8 10.8M1791.88 2158.94l10.8 -10.8M1803.11 2155.44l10.8 10.8M1803.11 2166.24l10.8 -10.8M1814.35 2109.84l10.8 10.8M1814.35 2120.64l10.8 -10.8M1825.58 2131.72l10.8 10.8M1825.58 2142.52l10.8 -10.8M1836.82 2140.84l10.8 10.8M1836.82 2151.64l10.8 -10.8M1848.05 2143.58l10.8 10.8M1848.05 2154.38l10.8 -10.8M1859.29 2139.02l10.8 10.8M1859.29 2149.82l10.8 -10.8M1870.52 2136.28l10.8 10.8M1870.52 2147.08l10.8 -10.8M1881.76 2146.32l10.8 10.8M1881.76 2157.12l10.8 -10.8M1892.99 2128.99l10.8 10.8M1892.99 2139.79l10.8 -10.8M1904.23 2134.46l10.8 10.8M1904.23 2145.26l10.8 -10.8M1915.46 2145.4l10.8 10.8M1915.46 2156.2l10.8 -10.8M1926.7 2156.35l10.8 10.8M1926.7 2167.15l10.8 -10.8M1937.93 2150.88l10.8 10.8M1937.93 2161.68l10.8 -10.8M1949.17 2163.64l10.8 10.8M1949.17 2174.44l10.8 -10.8M1960.4 2164.56l10.8 10.8M1960.4 2175.36l10.8 -10.8M1971.64 2166.38l10.8 10.8M1971.64 2177.18l10.8 -10.8M1982.87 2176.41l10.8 10.8M1982.87 2187.21l10.8 -10.8M1994.11 2170.94l10.8 10.8M1994.11 2181.74l10.8 -10.8M2005.34 2170.94l10.8 10.8M2005.34 2181.74l10.8 -10.8M2016.58 2169.12l10.8 10.8M2016.58 2179.92l10.8 -10.8M2027.81 2161.82l10.8 10.8M2027.81 2172.62l10.8 -10.8M2039.05 2160.91l10.8 10.8M2039.05 2171.71l10.8 -10.8M2050.28 2157.26l10.8 10.8M2050.28 2168.06l10.8 -10.8M2061.52 2153.61l10.8 10.8M2061.52 2164.41l10.8 -10.8M2072.75 2145.4l10.8 10.8M2072.75 2156.2l10.8 -10.8M2083.99 2140.84l10.8 10.8M2083.99 2151.64l10.8 -10.8M2095.22 2156.35l10.8 10.8M2095.22 2167.15l10.8 -10.8M2106.46 2157.26l10.8 10.8M2106.46 2168.06l10.8 -10.8M2117.69 2153.61l10.8 10.8M2117.69 2164.41l10.8 -10.8M2128.93 2143.58l10.8 10.8M2128.93 2154.38l10.8 -10.8M2140.16 2125.34l10.8 10.8M2140.16 2136.14l10.8 -10.8M2151.4 2139.02l10.8 10.8M2151.4 2149.82l10.8 -10.8M2162.63 2156.35l10.8 10.8M2162.63 2167.15l10.8 -10.8M2173.87 2157.26l10.8 10.8M2173.87 2168.06l10.8 -10.8M2185.11 2158.17l10.8 10.8M2185.11 2168.97l10.8 -10.8M2196.34 2117.13l10.8 10.8M2196.34 2127.93l10.8 -10.8M2207.57 2134.46l10.8 10.8M2207.57 2145.26l10.8 -10.8M2218.81 2116.22l10.8 10.8M2218.81 2127.02l10.8 -10.8M2230.04 2068.8l10.8 10.8M2230.04 2079.6l10.8 -10.8M2241.28 2108.01l10.8 10.8M2241.28 2118.81l10.8 -10.8M2252.51 2097.98l10.8 10.8M2252.51 2108.78l10.8 -10.8M2263.75 2116.22l10.8 10.8M2263.75 2127.02l10.8 -10.8M2274.98 2073.81l10.8 10.8M2274.98 2084.61l10.8 -10.8M2286.22 2078.83l10.8 10.8M2286.22 2089.63l10.8 -10.8M2297.45 2073.81l10.8 10.8M2297.45 2084.61l10.8 -10.8M2308.69 2070.62l10.8 10.8M2308.69 2081.42l10.8 -10.8M2319.92 2023.65l10.8 10.8M2319.92 2034.45l10.8 -10.8M2331.16 2064.24l10.8 10.8M2331.16 2075.04l10.8 -10.8M2342.39 2127.16l10.8 10.8M2342.39 2137.96l10.8 -10.8M2353.63 2151.79l10.8 10.8M2353.63 2162.59l10.8 -10.8M2364.86 2155.44l10.8 10.8M2364.86 2166.24l10.8 -10.8M2376.1 2161.36l10.8 10.8M2376.1 2172.16l10.8 -10.8" fill="none" stroke="#ff00ff" stroke-width="3.6" stroke-linecap="butt"/>
<polyline clip-path="url(#cb)" points="145.74,2086.33 156.97,2066.54 168.2,2079.67 179.44,2100.83 190.68,2085.14 201.91,2108.85 213.14,2123.44 224.38,2119.34 235.62,2127.09 246.85,2145.7 258.08,2156.28 269.32,2174.7 280.56,2161.75 291.79,2186.65 303.02,2194.58 314.26,2197.32 325.5,2201.15 336.73,2204.61 347.96,2211.91 359.2,2213.73 370.44,2212.82 381.67,2212.82 392.9,2211 404.14,2211 415.38,2211 426.61,2211 437.84,2212.82 449.08,2211 460.31,2211 471.55,2214.64 482.78,2214.64 494.02,2214.19 505.25,2210.08 516.49,2211.91 527.72,2212.82 538.96,2214.19 550.19,2214.64 561.43,2215.1 572.66,2215.1 583.9,2212.82 595.13,2210.08 606.37,2211 617.61,2211 628.84,2211 640.08,2209.17 651.31,2208.26 662.54,2203.88 673.78,2203.7 685.01,2202.79 696.25,2201.88 707.49,2200.96 718.72,2203.24 729.95,2200.96 741.19,2201.88 752.42,2200.96 763.66,2200.96 774.89,2196.77 786.13,2194.58 797.37,2194.58 808.6,2187.28 819.83,2179.99 831.07,2201.51 842.3,2187.28 853.54,2143.51 864.77,2184.55 876.01,2192.76 887.25,2193.67 898.48,2196.4 909.71,2198.23 920.95,2199.14 932.18,2203.7 943.42,2203.7 954.65,2202.79 965.89,2201.88 977.12,2203.7 988.36,2201.88 999.59,2196.4 1010.83,2202.79 1022.06,2200.96 1033.3,2208.26 1044.53,2209.17 1055.77,2209.17 1067.01,2209.17 1078.24,2209.17 1089.47,2208.26 1100.71,2208.26 1111.94,2209.17 1123.18,2208.26 1134.41,2208.26 1145.65,2200.05 1156.88,2185.46 1168.12,2189.11 1179.36,2194.58 1190.59,2194.58 1201.83,2194.58 1213.06,2194.58 1224.29,2194.58 1235.53,2194.58 1246.76,2194.58 1258,2196.4 1269.23,2192.76 1280.47,2180.9 1291.7,2163.57 1302.94,2182.72 1314.17,2189.11 1325.41,2166.31 1336.64,2103.38 1347.88,2150.8 1359.12,2150.8 1370.35,2122.53 1381.59,2087.88 1392.82,2053.22 1404.05,2077.84 1415.29,2076.93 1426.52,2008.53 1437.76,2105.2 1448.99,2125.63 1460.23,2136.21 1471.46,2166.58 1482.7,2176.34 1493.93,2177.25 1505.17,2177.25 1516.4,2177.25 1527.64,2174.06 1538.88,2173.6 1550.11,2164.48 1561.35,2160.84 1572.58,2167.22 1583.81,2167.22 1595.05,2168.13 1606.28,2173.6 1617.52,2176.34 1628.75,2175.43 1639.99,2179.99 1651.22,2179.08 1662.46,2184.73 1673.69,2185.92 1684.93,2176.34 1696.16,2174.52 1707.4,2173.6 1718.63,2180.9 1729.87,2179.99 1741.11,2169.32 1752.34,2169.32 1763.57,2168.13 1774.81,2157.46 1786.04,2150.44 1797.28,2148.98 1808.51,2164.48 1819.75,2113.78 1830.98,2138.58 1842.22,2163.57 1853.45,2174.52 1864.69,2158.1 1875.92,2129.19 1887.16,2179.08 1898.39,2150.44 1909.63,2160.84 1920.87,2171.78 1932.1,2175.43 1943.33,2182.27 1954.57,2183.64 1965.8,2166.31 1977.04,2145.33 1988.27,2175.43 1999.51,2170.87 2010.74,2172.69 2021.98,2178.16 2033.21,2177.25 2044.45,2178.16 2055.68,2170.87 2066.92,2174.52 2078.15,2172.69 2089.39,2159.01 2100.62,2154.45 2111.86,2159.01 2123.09,2154.45 2134.33,2146.24 2145.56,2137.12 2156.8,2144.42 2168.03,2154.45 2179.27,2156.28 2190.51,2158.1 2201.74,2160.84 2212.97,2146.7 2224.21,2128.92 2235.44,2081.49 2246.68,2122.99 2257.91,2103.38 2269.15,2156.28 2280.38,2130.74 2291.62,2146.7 2302.86,2154.45 2314.09,2154.45 2325.32,2138.95 2336.56,2142.6 2347.8,2154.45 2359.03,2154.45 2370.26,2148.98 2381.5,2146.7" fill="none" stroke="#0000ff" stroke-width="3.8" stroke-linejoin="round" stroke-linecap="round"/>
<path d="M145.74 2095.68L153.84 2081.65H137.64ZM156.97 2075.89L165.07 2061.86H148.87ZM168.2 2089.02L176.3 2074.99H160.1ZM179.44 2110.18L187.54 2096.15H171.34ZM190.68 2094.49L198.78 2080.46H182.58ZM201.91 2118.21L210.01 2104.18H193.81ZM213.14 2132.8L221.24 2118.77H205.04ZM224.38 2128.69L232.48 2114.66H216.28ZM235.62 2136.45L243.72 2122.42H227.52ZM246.85 2155.05L254.95 2141.02H238.75ZM258.08 2165.63L266.19 2151.6H249.98ZM269.32 2184.05L277.42 2170.02H261.22ZM280.56 2171.1L288.66 2157.07H272.45ZM291.79 2196L299.89 2181.97H283.69ZM303.02 2203.93L311.12 2189.9H294.92ZM314.26 2206.67L322.36 2192.64H306.16ZM325.5 2210.5L333.6 2196.47H317.39ZM336.73 2213.97L344.83 2199.94H328.63ZM347.96 2221.26L356.06 2207.23H339.86ZM359.2 2223.09L367.3 2209.06H351.1ZM370.44 2222.17L378.54 2208.14H362.33ZM381.67 2222.17L389.77 2208.14H373.57ZM392.9 2220.35L401 2206.32H384.8ZM404.14 2220.35L412.24 2206.32H396.04ZM415.38 2220.35L423.48 2206.32H407.27ZM426.61 2220.35L434.71 2206.32H418.51ZM437.84 2222.17L445.94 2208.14H429.74ZM449.08 2220.35L457.18 2206.32H440.98ZM460.31 2220.35L468.42 2206.32H452.21ZM471.55 2224L479.65 2209.97H463.45ZM482.78 2224L490.88 2209.97H474.68ZM494.02 2223.54L502.12 2209.51H485.92ZM505.25 2219.44L513.36 2205.41H497.15ZM516.49 2221.26L524.59 2207.23H508.39ZM527.72 2222.17L535.82 2208.14H519.62ZM538.96 2223.54L547.06 2209.51H530.86ZM550.19 2224L558.29 2209.97H542.09ZM561.43 2224.45L569.53 2210.42H553.33ZM572.66 2224.45L580.76 2210.42H564.56ZM583.9 2222.17L592 2208.14H575.8ZM595.13 2219.44L603.24 2205.41H587.03ZM606.37 2220.35L614.47 2206.32H598.27ZM617.61 2220.35L625.71 2206.32H609.5ZM628.84 2220.35L636.94 2206.32H620.74ZM640.08 2218.53L648.18 2204.5H631.98ZM651.31 2217.61L659.41 2203.58H643.21ZM662.54 2213.24L670.64 2199.21H654.44ZM673.78 2213.05L681.88 2199.02H665.68ZM685.01 2212.14L693.12 2198.11H676.91ZM696.25 2211.23L704.35 2197.2H688.15ZM707.49 2210.32L715.59 2196.29H699.38ZM718.72 2212.6L726.82 2198.57H710.62ZM729.95 2210.32L738.05 2196.29H721.85ZM741.19 2211.23L749.29 2197.2H733.09ZM752.42 2210.32L760.52 2196.29H744.32ZM763.66 2210.32L771.76 2196.29H755.56ZM774.89 2206.12L783 2192.09H766.79ZM786.13 2203.93L794.23 2189.9H778.03ZM797.37 2203.93L805.47 2189.9H789.26ZM808.6 2196.64L816.7 2182.61H800.5ZM819.83 2189.34L827.93 2175.31H811.73ZM831.07 2210.86L839.17 2196.83H822.97ZM842.3 2196.64L850.4 2182.61H834.2ZM853.54 2152.86L861.64 2138.83H845.44ZM864.77 2193.9L872.88 2179.87H856.67ZM876.01 2202.11L884.11 2188.08H867.91ZM887.25 2203.02L895.35 2188.99H879.14ZM898.48 2205.76L906.58 2191.73H890.38ZM909.71 2207.58L917.81 2193.55H901.61ZM920.95 2208.49L929.05 2194.46H912.85ZM932.18 2213.05L940.28 2199.02H924.08ZM943.42 2213.05L951.52 2199.02H935.32ZM954.65 2212.14L962.75 2198.11H946.55ZM965.89 2211.23L973.99 2197.2H957.79ZM977.12 2213.05L985.23 2199.02H969.02ZM988.36 2211.23L996.46 2197.2H980.26ZM999.59 2205.76L1007.69 2191.73H991.49ZM1010.83 2212.14L1018.93 2198.11H1002.73ZM1022.06 2210.32L1030.16 2196.29H1013.96ZM1033.3 2217.61L1041.4 2203.58H1025.2ZM1044.53 2218.53L1052.63 2204.5H1036.43ZM1055.77 2218.53L1063.87 2204.5H1047.67ZM1067.01 2218.53L1075.11 2204.5H1058.91ZM1078.24 2218.53L1086.34 2204.5H1070.14ZM1089.47 2217.61L1097.57 2203.58H1081.38ZM1100.71 2217.61L1108.81 2203.58H1092.61ZM1111.94 2218.53L1120.04 2204.5H1103.85ZM1123.18 2217.61L1131.28 2203.58H1115.08ZM1134.41 2217.61L1142.51 2203.58H1126.32ZM1145.65 2209.41L1153.75 2195.38H1137.55ZM1156.88 2194.81L1164.98 2180.78H1148.79ZM1168.12 2198.46L1176.22 2184.43H1160.02ZM1179.36 2203.93L1187.45 2189.9H1171.26ZM1190.59 2203.93L1198.69 2189.9H1182.49ZM1201.83 2203.93L1209.92 2189.9H1193.73ZM1213.06 2203.93L1221.16 2189.9H1204.96ZM1224.29 2203.93L1232.39 2189.9H1216.19ZM1235.53 2203.93L1243.63 2189.9H1227.43ZM1246.76 2203.93L1254.86 2189.9H1238.66ZM1258 2205.76L1266.1 2191.73H1249.9ZM1269.23 2202.11L1277.33 2188.08H1261.13ZM1280.47 2190.25L1288.57 2176.22H1272.37ZM1291.7 2172.93L1299.8 2158.9H1283.61ZM1302.94 2192.08L1311.04 2178.05H1294.84ZM1314.17 2198.46L1322.27 2184.43H1306.08ZM1325.41 2175.66L1333.51 2161.63H1317.31ZM1336.64 2112.73L1344.74 2098.7H1328.55ZM1347.88 2160.16L1355.98 2146.13H1339.78ZM1359.12 2160.16L1367.21 2146.13H1351.02ZM1370.35 2131.89L1378.45 2117.86H1362.25ZM1381.59 2097.23L1389.68 2083.2H1373.49ZM1392.82 2062.57L1400.92 2048.54H1384.72ZM1404.05 2087.2L1412.15 2073.17H1395.95ZM1415.29 2086.29L1423.39 2072.26H1407.19ZM1426.52 2017.89L1434.62 2003.86H1418.42ZM1437.76 2114.56L1445.86 2100.53H1429.66ZM1448.99 2134.99L1457.09 2120.96H1440.89ZM1460.23 2145.57L1468.33 2131.54H1452.13ZM1471.46 2175.93L1479.56 2161.91H1463.37ZM1482.7 2185.69L1490.8 2171.66H1474.6ZM1493.93 2186.61L1502.03 2172.58H1485.84ZM1505.17 2186.61L1513.27 2172.58H1497.07ZM1516.4 2186.61L1524.5 2172.58H1508.31ZM1527.64 2183.41L1535.74 2169.38H1519.54ZM1538.88 2182.96L1546.97 2168.93H1530.78ZM1550.11 2173.84L1558.21 2159.81H1542.01ZM1561.35 2170.19L1569.44 2156.16H1553.25ZM1572.58 2176.57L1580.68 2162.54H1564.48ZM1583.81 2176.57L1591.91 2162.54H1575.71ZM1595.05 2177.49L1603.15 2163.46H1586.95ZM1606.28 2182.96L1614.38 2168.93H1598.18ZM1617.52 2185.69L1625.62 2171.66H1609.42ZM1628.75 2184.78L1636.85 2170.75H1620.65ZM1639.99 2189.34L1648.09 2175.31H1631.89ZM1651.22 2188.43L1659.32 2174.4H1643.12ZM1662.46 2194.08L1670.56 2180.05H1654.36ZM1673.69 2195.27L1681.79 2181.24H1665.6ZM1684.93 2185.69L1693.03 2171.66H1676.83ZM1696.16 2183.87L1704.26 2169.84H1688.07ZM1707.4 2182.96L1715.5 2168.93H1699.3ZM1718.63 2190.25L1726.73 2176.22H1710.54ZM1729.87 2189.34L1737.97 2175.31H1721.77ZM1741.11 2178.67L1749.2 2164.64H1733.01ZM1752.34 2178.67L1760.44 2164.64H1744.24ZM1763.57 2177.49L1771.67 2163.46H1755.47ZM1774.81 2166.81L1782.91 2152.79H1766.71ZM1786.04 2159.79L1794.14 2145.76H1777.94ZM1797.28 2158.33L1805.38 2144.3H1789.18ZM1808.51 2173.84L1816.61 2159.81H1800.41ZM1819.75 2123.13L1827.85 2109.1H1811.65ZM1830.98 2147.94L1839.08 2133.91H1822.88ZM1842.22 2172.93L1850.32 2158.9H1834.12ZM1853.45 2183.87L1861.55 2169.84H1845.36ZM1864.69 2167.45L1872.79 2153.42H1856.59ZM1875.92 2138.54L1884.02 2124.51H1867.83ZM1887.16 2188.43L1895.26 2174.4H1879.06ZM1898.39 2159.79L1906.49 2145.76H1890.3ZM1909.63 2170.19L1917.73 2156.16H1901.53ZM1920.87 2181.13L1928.96 2167.1H1912.77ZM1932.1 2184.78L1940.2 2170.75H1924ZM1943.33 2191.62L1951.43 2177.59H1935.23ZM1954.57 2192.99L1962.67 2178.96H1946.47ZM1965.8 2175.66L1973.9 2161.63H1957.7ZM1977.04 2154.69L1985.14 2140.66H1968.94ZM1988.27 2184.78L1996.37 2170.75H1980.17ZM1999.51 2180.22L2007.61 2166.19H1991.41ZM2010.74 2182.05L2018.84 2168.02H2002.64ZM2021.98 2187.52L2030.08 2173.49H2013.88ZM2033.21 2186.61L2041.31 2172.58H2025.12ZM2044.45 2187.52L2052.55 2173.49H2036.35ZM2055.68 2180.22L2063.78 2166.19H2047.59ZM2066.92 2183.87L2075.02 2169.84H2058.82ZM2078.15 2182.05L2086.25 2168.02H2070.05ZM2089.39 2168.37L2097.49 2154.34H2081.29ZM2100.62 2163.81L2108.72 2149.78H2092.53ZM2111.86 2168.37L2119.96 2154.34H2103.76ZM2123.09 2163.81L2131.19 2149.78H2114.99ZM2134.33 2155.6L2142.43 2141.57H2126.23ZM2145.56 2146.48L2153.66 2132.45H2137.46ZM2156.8 2153.77L2164.9 2139.74H2148.7ZM2168.03 2163.81L2176.13 2149.78H2159.93ZM2179.27 2165.63L2187.37 2151.6H2171.17ZM2190.51 2167.45L2198.61 2153.42H2182.41ZM2201.74 2170.19L2209.84 2156.16H2193.64ZM2212.97 2156.05L2221.07 2142.02H2204.88ZM2224.21 2138.27L2232.31 2124.24H2216.11ZM2235.44 2090.85L2243.54 2076.82H2227.34ZM2246.68 2132.34L2254.78 2118.31H2238.58ZM2257.91 2112.73L2266.01 2098.7H2249.82ZM2269.15 2165.63L2277.25 2151.6H2261.05ZM2280.38 2140.09L2288.48 2126.06H2272.28ZM2291.62 2156.05L2299.72 2142.02H2283.52ZM2302.86 2163.81L2310.95 2149.78H2294.76ZM2314.09 2163.81L2322.19 2149.78H2305.99ZM2325.32 2148.3L2333.42 2134.27H2317.22ZM2336.56 2151.95L2344.66 2137.92H2328.46ZM2347.8 2163.81L2355.89 2149.78H2339.7ZM2359.03 2163.81L2367.13 2149.78H2350.93ZM2370.26 2158.33L2378.36 2144.3H2362.16ZM2381.5 2156.05L2389.6 2142.02H2373.4Z" fill="none" stroke="#0000ff" stroke-width="3.6" stroke-linejoin="miter"/>
</g>
<rect x="2166.5" y="1339.5" width="190.0" height="215.0" fill="#fff" stroke="#262626" stroke-width="1"/>
<g shape-rendering="crispEdges"><path d="M2173 1368.6H2231" stroke="#ff0000" stroke-width="3.8" fill="none"/>
<path d="M2202 1359.25L2210.1 1373.28H2193.9Z" fill="none" stroke="#ff0000" stroke-width="3.6" stroke-linejoin="miter"/></g>
<text transform="translate(2235.7 1384.3) scale(0.965 1)" font-size="41.8" fill="#000" font-family="'Liberation Sans', Arial, Helvetica, sans-serif">EKF</text>
<g shape-rendering="crispEdges"><path d="M2173 1420.7H2231" stroke="#00ff00" stroke-width="3.8" fill="none"/>
<path d="M2194 1420.7h16M2202 1412.7v16M2196.34 1415.04l11.32 11.32M2196.34 1426.36l11.32 -11.32" fill="none" stroke="#00ff00" stroke-width="3.6" stroke-linecap="butt"/></g>
<text transform="translate(2235.7 1436.4) scale(0.965 1)" font-size="41.8" fill="#000" font-family="'Liberation Sans', Arial, Helvetica, sans-serif">IEKF</text>
<g shape-rendering="crispEdges"><path d="M2173 1472.8H2231" stroke="#ff00ff" stroke-width="3.8" fill="none"/>
<path d="M2196.6 1467.4l10.8 10.8M2196.6 1478.2l10.8 -10.8" fill="none" stroke="#ff00ff" stroke-width="3.6" stroke-linecap="butt"/></g>
<text transform="translate(2235.7 1488.5) scale(0.965 1)" font-size="41.8" fill="#000" font-family="'Liberation Sans', Arial, Helvetica, sans-serif">RUF</text>
<g shape-rendering="crispEdges"><path d="M2173 1524.9H2231" stroke="#0000ff" stroke-width="3.8" fill="none"/>
<path d="M2202 1534.25L2210.1 1520.22H2193.9Z" fill="none" stroke="#0000ff" stroke-width="3.6" stroke-linejoin="miter"/></g>
<text transform="translate(2235.7 1540.6) scale(0.965 1)" font-size="41.8" fill="#000" font-family="'Liberation Sans', Arial, Helvetica, sans-serif">NGDF</text>
<text transform="translate(1215.5 1179.4) scale(0.94 1)" x="0" y="0" text-anchor="middle" font-size="86" fill="#000" font-family="'Liberation Serif', 'Times New Roman', Times, serif">(<tspan font-weight="bold">a</tspan>)</text>
<text transform="translate(1215 2448.2) scale(0.97 1)" x="0" y="0" text-anchor="middle" font-size="86" fill="#000" font-family="'Liberation Serif', 'Times New Roman', Times, serif">(<tspan font-weight="bold">b</tspan>)</text>
</svg></body></html>
